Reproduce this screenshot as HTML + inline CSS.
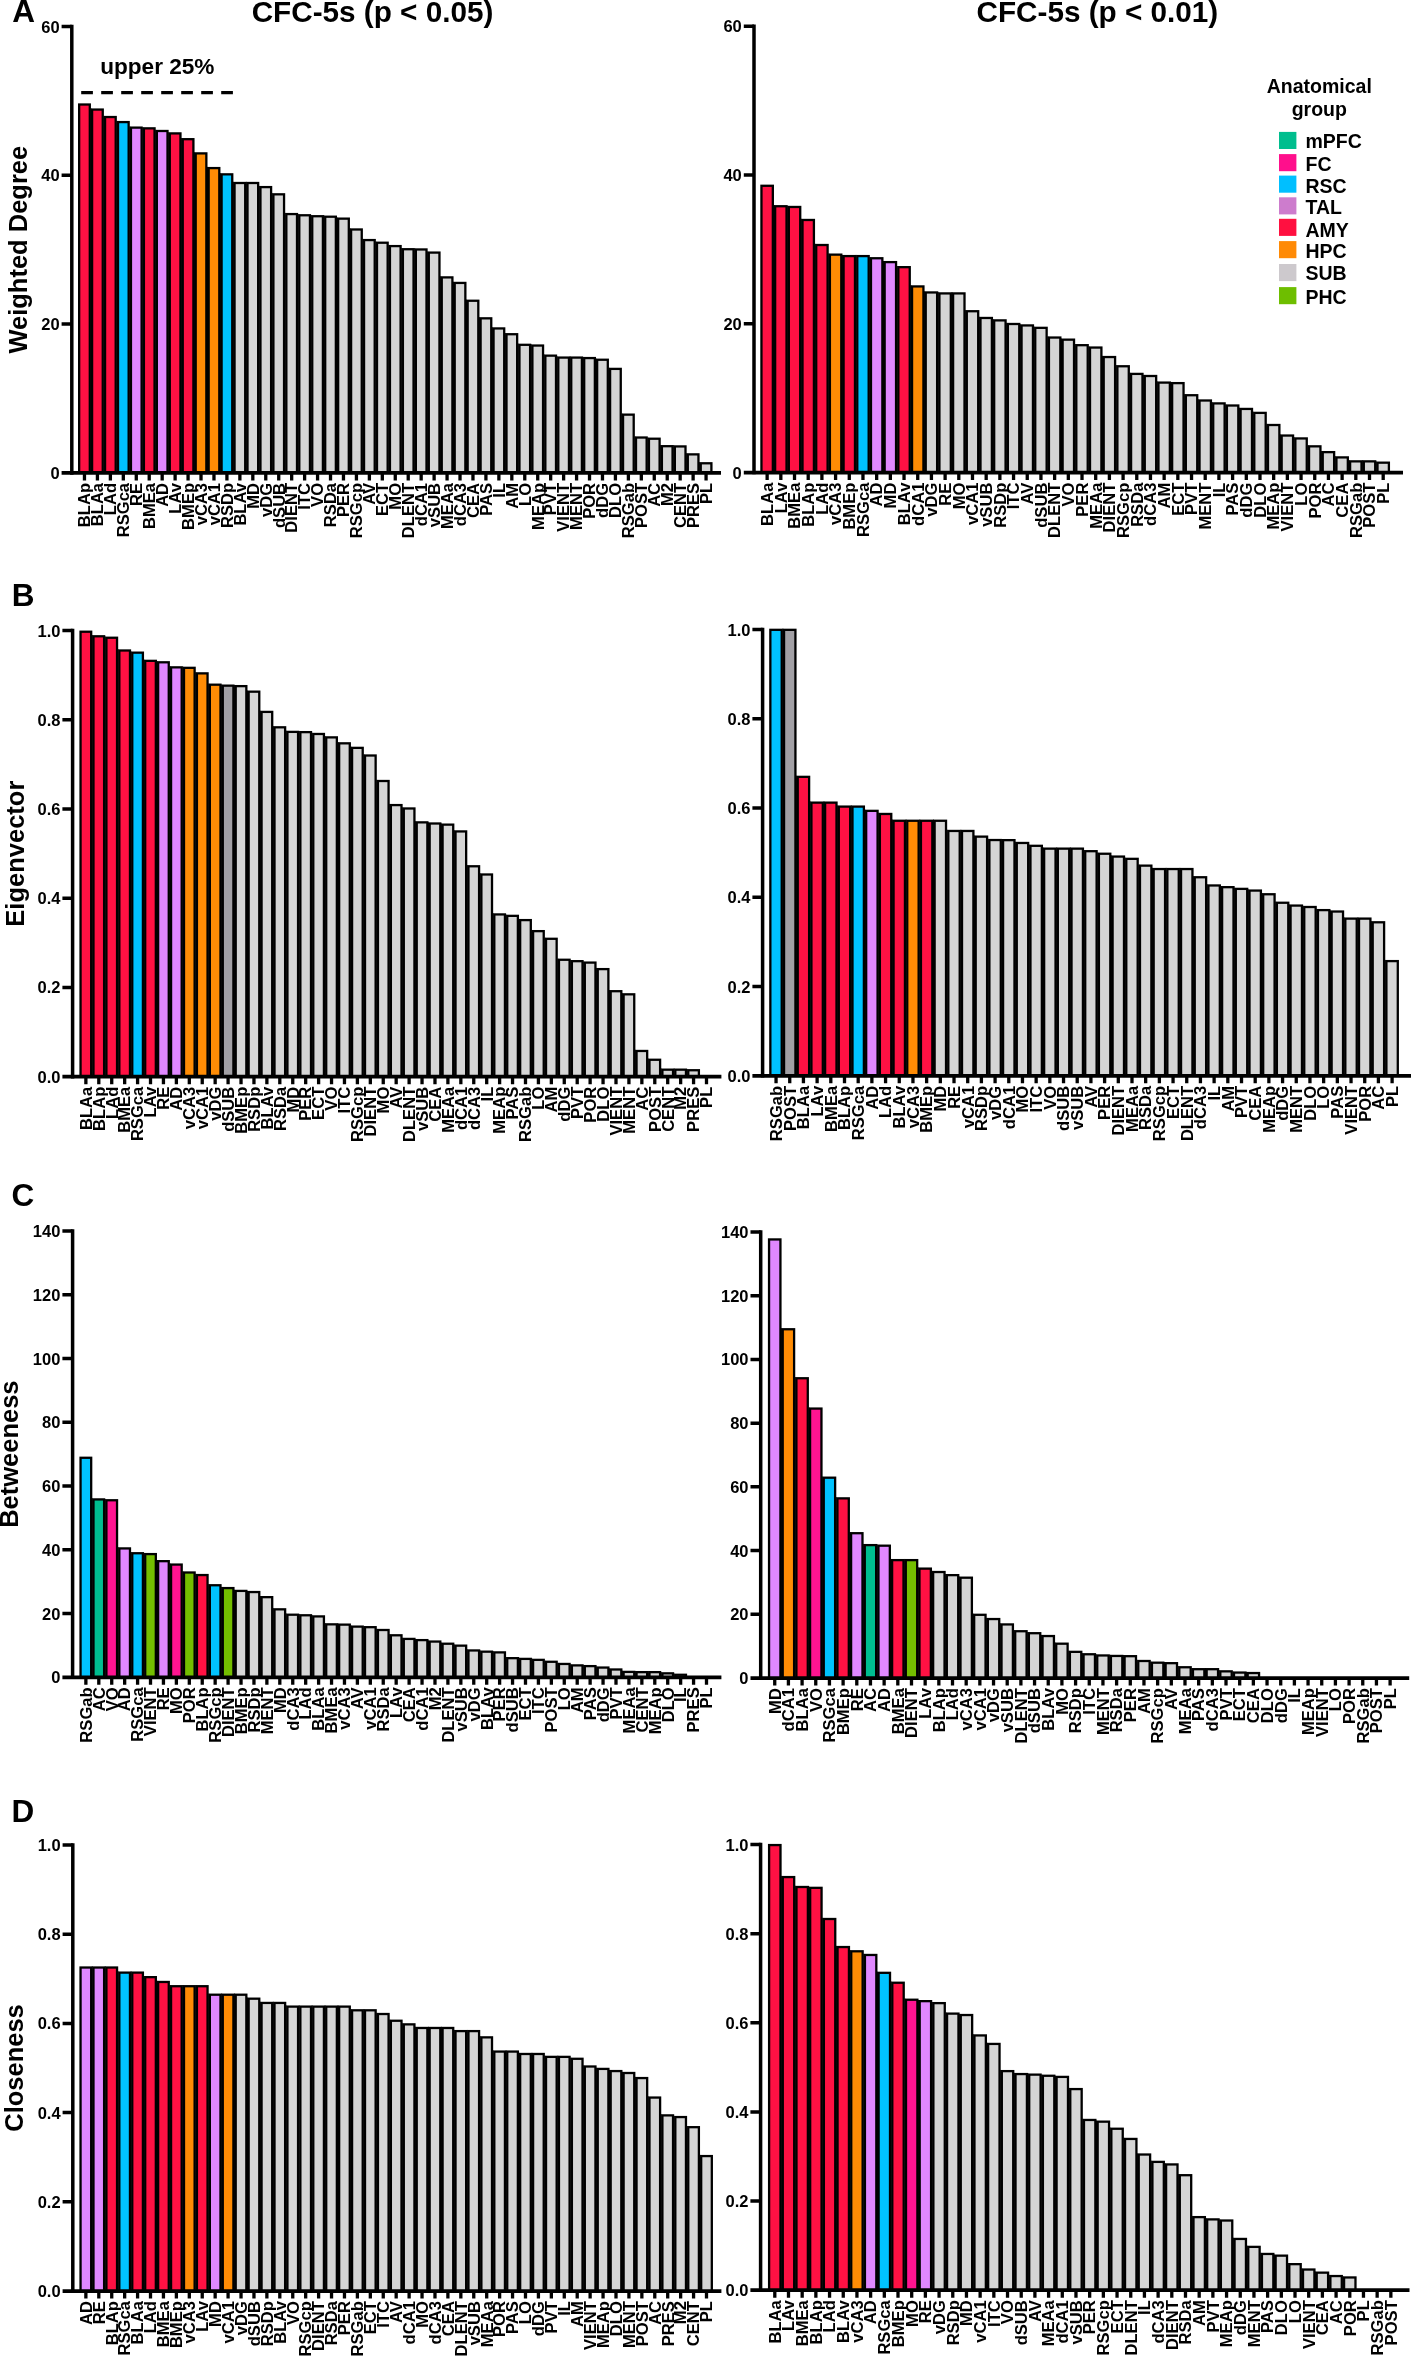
<!DOCTYPE html>
<html><head><meta charset="utf-8"><title>Figure</title>
<style>
html,body{margin:0;padding:0;background:#fff;}
body{width:1412px;height:2357px;overflow:hidden;}
svg{display:block;will-change:transform;}
text{font-family:"Liberation Sans",sans-serif;font-weight:bold;fill:#000;}
.xl{font-size:16.6px;letter-spacing:0px;text-anchor:end;}
.yt{font-size:16.5px;text-anchor:end;}
.yl{font-size:25.5px;letter-spacing:0px;text-anchor:middle;}
.pl{font-size:31.5px;}
.tt{font-size:29.7px;letter-spacing:0px;text-anchor:middle;}
.lg{font-size:19.5px;}
</style></head>
<body>
<svg width="1412" height="2357" viewBox="0 0 1412 2357">
<rect x="0" y="0" width="1412" height="2357" fill="#fff"/>
<g id="AL">
<g fill="#000"><rect x="78" y="103.36" width="12.95" height="369.54"/><rect x="90.45" y="108.41" width="1" height="364.49"/><rect x="90.95" y="108.41" width="12.95" height="364.49"/><rect x="103.4" y="115.88" width="1" height="357.02"/><rect x="103.9" y="115.88" width="12.95" height="357.02"/><rect x="116.35" y="120.93" width="1" height="351.97"/><rect x="116.85" y="120.93" width="12.95" height="351.97"/><rect x="129.3" y="126.47" width="1" height="346.43"/><rect x="129.8" y="126.47" width="12.95" height="346.43"/><rect x="142.25" y="127.19" width="1" height="345.71"/><rect x="142.75" y="127.19" width="12.95" height="345.71"/><rect x="155.2" y="129.84" width="1" height="343.06"/><rect x="155.7" y="129.84" width="12.95" height="343.06"/><rect x="168.15" y="132.25" width="1" height="340.65"/><rect x="168.65" y="132.25" width="12.95" height="340.65"/><rect x="181.1" y="138.03" width="1" height="334.87"/><rect x="181.6" y="138.03" width="12.95" height="334.87"/><rect x="194.05" y="152.24" width="1" height="320.66"/><rect x="194.55" y="152.24" width="12.95" height="320.66"/><rect x="207" y="166.93" width="1" height="305.97"/><rect x="207.5" y="166.93" width="12.95" height="305.97"/><rect x="219.95" y="173.19" width="1" height="299.71"/><rect x="220.45" y="173.19" width="12.95" height="299.71"/><rect x="232.9" y="181.85" width="1" height="291.05"/><rect x="233.4" y="181.85" width="12.95" height="291.05"/><rect x="245.85" y="181.85" width="1" height="291.05"/><rect x="246.35" y="181.85" width="12.95" height="291.05"/><rect x="258.8" y="185.95" width="1" height="286.95"/><rect x="259.3" y="185.95" width="12.95" height="286.95"/><rect x="271.75" y="193.17" width="1" height="279.73"/><rect x="272.25" y="193.17" width="12.95" height="279.73"/><rect x="284.7" y="212.92" width="1" height="259.98"/><rect x="285.2" y="212.92" width="12.95" height="259.98"/><rect x="297.65" y="214.12" width="1" height="258.78"/><rect x="298.15" y="214.12" width="12.95" height="258.78"/><rect x="310.6" y="215.08" width="1" height="257.82"/><rect x="311.1" y="215.08" width="12.95" height="257.82"/><rect x="323.55" y="215.56" width="1" height="257.34"/><rect x="324.05" y="215.56" width="12.95" height="257.34"/><rect x="336.5" y="217.49" width="1" height="255.41"/><rect x="337" y="217.49" width="12.95" height="255.41"/><rect x="349.45" y="228.33" width="1" height="244.57"/><rect x="349.95" y="228.33" width="12.95" height="244.57"/><rect x="362.4" y="238.92" width="1" height="233.98"/><rect x="362.9" y="238.92" width="12.95" height="233.98"/><rect x="375.35" y="241.57" width="1" height="231.33"/><rect x="375.85" y="241.57" width="12.95" height="231.33"/><rect x="388.3" y="244.94" width="1" height="227.96"/><rect x="388.8" y="244.94" width="12.95" height="227.96"/><rect x="401.25" y="248.07" width="1" height="224.83"/><rect x="401.75" y="248.07" width="12.95" height="224.83"/><rect x="414.2" y="248.31" width="1" height="224.59"/><rect x="414.7" y="248.31" width="12.95" height="224.59"/><rect x="427.15" y="251.44" width="1" height="221.46"/><rect x="427.65" y="251.44" width="12.95" height="221.46"/><rect x="440.1" y="276.24" width="1" height="196.66"/><rect x="440.6" y="276.24" width="12.95" height="196.66"/><rect x="453.05" y="281.78" width="1" height="191.12"/><rect x="453.55" y="281.78" width="12.95" height="191.12"/><rect x="466" y="299.6" width="1" height="173.3"/><rect x="466.5" y="299.6" width="12.95" height="173.3"/><rect x="478.95" y="317.18" width="1" height="155.72"/><rect x="479.45" y="317.18" width="12.95" height="155.72"/><rect x="491.9" y="327.29" width="1" height="145.61"/><rect x="492.4" y="327.29" width="12.95" height="145.61"/><rect x="504.85" y="333.07" width="1" height="139.83"/><rect x="505.35" y="333.07" width="12.95" height="139.83"/><rect x="517.8" y="343.66" width="1" height="129.24"/><rect x="518.3" y="343.66" width="12.95" height="129.24"/><rect x="530.75" y="344.39" width="1" height="128.51"/><rect x="531.25" y="344.39" width="12.95" height="128.51"/><rect x="543.7" y="354.5" width="1" height="118.4"/><rect x="544.2" y="354.5" width="12.95" height="118.4"/><rect x="556.65" y="356.43" width="1" height="116.47"/><rect x="557.15" y="356.43" width="12.95" height="116.47"/><rect x="569.6" y="356.43" width="1" height="116.47"/><rect x="570.1" y="356.43" width="12.95" height="116.47"/><rect x="582.55" y="356.91" width="1" height="115.99"/><rect x="583.05" y="356.91" width="12.95" height="115.99"/><rect x="595.5" y="358.59" width="1" height="114.31"/><rect x="596" y="358.59" width="12.95" height="114.31"/><rect x="608.45" y="367.74" width="1" height="105.16"/><rect x="608.95" y="367.74" width="12.95" height="105.16"/><rect x="621.4" y="413.49" width="1" height="59.41"/><rect x="621.9" y="413.49" width="12.95" height="59.41"/><rect x="634.35" y="436.37" width="1" height="36.53"/><rect x="634.85" y="436.37" width="12.95" height="36.53"/><rect x="647.3" y="437.57" width="1" height="35.33"/><rect x="647.8" y="437.57" width="12.95" height="35.33"/><rect x="660.25" y="445.04" width="1" height="27.86"/><rect x="660.75" y="445.04" width="12.95" height="27.86"/><rect x="673.2" y="445.28" width="1" height="27.62"/><rect x="673.7" y="445.28" width="12.95" height="27.62"/><rect x="686.15" y="453.22" width="1" height="19.68"/><rect x="686.65" y="453.22" width="12.95" height="19.68"/><rect x="699.1" y="462.13" width="1" height="10.77"/><rect x="699.6" y="462.13" width="12.95" height="10.77"/></g>
<g><rect x="80.3" y="105.66" width="8.35" height="367.24" fill="#FF1143"/><rect x="93.25" y="110.71" width="8.35" height="362.19" fill="#FF1143"/><rect x="106.2" y="118.18" width="8.35" height="354.72" fill="#FF1143"/><rect x="119.15" y="123.23" width="8.35" height="349.67" fill="#00C3FF"/><rect x="132.1" y="128.77" width="8.35" height="344.13" fill="#E088FF"/><rect x="145.05" y="129.49" width="8.35" height="343.41" fill="#FF1143"/><rect x="158" y="132.14" width="8.35" height="340.76" fill="#E088FF"/><rect x="170.95" y="134.55" width="8.35" height="338.35" fill="#FF1143"/><rect x="183.9" y="140.33" width="8.35" height="332.57" fill="#FF1143"/><rect x="196.85" y="154.54" width="8.35" height="318.36" fill="#FF8C05"/><rect x="209.8" y="169.23" width="8.35" height="303.67" fill="#FF8C05"/><rect x="222.75" y="175.49" width="8.35" height="297.41" fill="#00C3FF"/><rect x="235.7" y="184.15" width="8.35" height="288.75" fill="#D5D5D5"/><rect x="248.65" y="184.15" width="8.35" height="288.75" fill="#D5D5D5"/><rect x="261.6" y="188.25" width="8.35" height="284.65" fill="#D5D5D5"/><rect x="274.55" y="195.47" width="8.35" height="277.43" fill="#D5D5D5"/><rect x="287.5" y="215.22" width="8.35" height="257.68" fill="#D5D5D5"/><rect x="300.45" y="216.42" width="8.35" height="256.48" fill="#D5D5D5"/><rect x="313.4" y="217.38" width="8.35" height="255.52" fill="#D5D5D5"/><rect x="326.35" y="217.86" width="8.35" height="255.04" fill="#D5D5D5"/><rect x="339.3" y="219.79" width="8.35" height="253.11" fill="#D5D5D5"/><rect x="352.25" y="230.63" width="8.35" height="242.27" fill="#D5D5D5"/><rect x="365.2" y="241.22" width="8.35" height="231.68" fill="#D5D5D5"/><rect x="378.15" y="243.87" width="8.35" height="229.03" fill="#D5D5D5"/><rect x="391.1" y="247.24" width="8.35" height="225.66" fill="#D5D5D5"/><rect x="404.05" y="250.37" width="8.35" height="222.53" fill="#D5D5D5"/><rect x="417" y="250.61" width="8.35" height="222.29" fill="#D5D5D5"/><rect x="429.95" y="253.74" width="8.35" height="219.16" fill="#D5D5D5"/><rect x="442.9" y="278.54" width="8.35" height="194.36" fill="#D5D5D5"/><rect x="455.85" y="284.08" width="8.35" height="188.82" fill="#D5D5D5"/><rect x="468.8" y="301.9" width="8.35" height="171" fill="#D5D5D5"/><rect x="481.75" y="319.48" width="8.35" height="153.42" fill="#D5D5D5"/><rect x="494.7" y="329.59" width="8.35" height="143.31" fill="#D5D5D5"/><rect x="507.65" y="335.37" width="8.35" height="137.53" fill="#D5D5D5"/><rect x="520.6" y="345.96" width="8.35" height="126.94" fill="#D5D5D5"/><rect x="533.55" y="346.69" width="8.35" height="126.21" fill="#D5D5D5"/><rect x="546.5" y="356.8" width="8.35" height="116.1" fill="#D5D5D5"/><rect x="559.45" y="358.73" width="8.35" height="114.17" fill="#D5D5D5"/><rect x="572.4" y="358.73" width="8.35" height="114.17" fill="#D5D5D5"/><rect x="585.35" y="359.21" width="8.35" height="113.69" fill="#D5D5D5"/><rect x="598.3" y="360.89" width="8.35" height="112.01" fill="#D5D5D5"/><rect x="611.25" y="370.04" width="8.35" height="102.86" fill="#D5D5D5"/><rect x="624.2" y="415.79" width="8.35" height="57.11" fill="#D5D5D5"/><rect x="637.15" y="438.67" width="8.35" height="34.23" fill="#D5D5D5"/><rect x="650.1" y="439.87" width="8.35" height="33.03" fill="#D5D5D5"/><rect x="663.05" y="447.34" width="8.35" height="25.56" fill="#D5D5D5"/><rect x="676" y="447.58" width="8.35" height="25.32" fill="#D5D5D5"/><rect x="688.95" y="455.52" width="8.35" height="17.38" fill="#D5D5D5"/><rect x="701.9" y="464.43" width="8.35" height="8.47" fill="#D5D5D5"/></g>
<g stroke="#000" fill="none">
<path stroke-width="3.5" d="M71.8 24.75 V474.65"/>
<path stroke-width="3.7" d="M61.6 472.9 H721"/>
<path stroke-width="3.5" d="M61.6 324.1 H71.8M61.6 175.3 H71.8M61.6 26.5 H71.8"/>
<path stroke-width="3.3" d="M84.47 472.9 V480.4M97.42 472.9 V480.4M110.38 472.9 V480.4M123.32 472.9 V480.4M136.28 472.9 V480.4M149.22 472.9 V480.4M162.18 472.9 V480.4M175.12 472.9 V480.4M188.07 472.9 V480.4M201.02 472.9 V480.4M213.97 472.9 V480.4M226.92 472.9 V480.4M239.88 472.9 V480.4M252.82 472.9 V480.4M265.77 472.9 V480.4M278.73 472.9 V480.4M291.67 472.9 V480.4M304.62 472.9 V480.4M317.57 472.9 V480.4M330.52 472.9 V480.4M343.47 472.9 V480.4M356.43 472.9 V480.4M369.38 472.9 V480.4M382.32 472.9 V480.4M395.27 472.9 V480.4M408.22 472.9 V480.4M421.17 472.9 V480.4M434.12 472.9 V480.4M447.07 472.9 V480.4M460.02 472.9 V480.4M472.97 472.9 V480.4M485.92 472.9 V480.4M498.88 472.9 V480.4M511.82 472.9 V480.4M524.77 472.9 V480.4M537.72 472.9 V480.4M550.67 472.9 V480.4M563.62 472.9 V480.4M576.58 472.9 V480.4M589.52 472.9 V480.4M602.48 472.9 V480.4M615.42 472.9 V480.4M628.38 472.9 V480.4M641.32 472.9 V480.4M654.27 472.9 V480.4M667.23 472.9 V480.4M680.17 472.9 V480.4M693.12 472.9 V480.4M706.07 472.9 V480.4"/>
</g>
<text class="yt" x="59.6" y="478.9">0</text><text class="yt" x="59.6" y="330.1">20</text><text class="yt" x="59.6" y="181.3">40</text><text class="yt" x="59.6" y="32.5">60</text>
<text class="xl" transform="translate(90.27 482.9) rotate(-90)">BLAp</text><text class="xl" transform="translate(103.22 482.9) rotate(-90)">BLAa</text><text class="xl" transform="translate(116.17 482.9) rotate(-90)">LAd</text><text class="xl" transform="translate(129.12 482.9) rotate(-90)">RSGca</text><text class="xl" transform="translate(142.08 482.9) rotate(-90)">RE</text><text class="xl" transform="translate(155.03 482.9) rotate(-90)">BMEa</text><text class="xl" transform="translate(167.98 482.9) rotate(-90)">AD</text><text class="xl" transform="translate(180.93 482.9) rotate(-90)">LAv</text><text class="xl" transform="translate(193.88 482.9) rotate(-90)">BMEp</text><text class="xl" transform="translate(206.82 482.9) rotate(-90)">vCA3</text><text class="xl" transform="translate(219.78 482.9) rotate(-90)">vCA1</text><text class="xl" transform="translate(232.72 482.9) rotate(-90)">RSDp</text><text class="xl" transform="translate(245.68 482.9) rotate(-90)">BLAv</text><text class="xl" transform="translate(258.62 482.9) rotate(-90)">MD</text><text class="xl" transform="translate(271.57 482.9) rotate(-90)">vDG</text><text class="xl" transform="translate(284.53 482.9) rotate(-90)">dSUB</text><text class="xl" transform="translate(297.47 482.9) rotate(-90)">DIENT</text><text class="xl" transform="translate(310.43 482.9) rotate(-90)">ITC</text><text class="xl" transform="translate(323.38 482.9) rotate(-90)">VO</text><text class="xl" transform="translate(336.32 482.9) rotate(-90)">RSDa</text><text class="xl" transform="translate(349.27 482.9) rotate(-90)">PER</text><text class="xl" transform="translate(362.23 482.9) rotate(-90)">RSGcp</text><text class="xl" transform="translate(375.18 482.9) rotate(-90)">AV</text><text class="xl" transform="translate(388.12 482.9) rotate(-90)">ECT</text><text class="xl" transform="translate(401.07 482.9) rotate(-90)">MO</text><text class="xl" transform="translate(414.02 482.9) rotate(-90)">DLENT</text><text class="xl" transform="translate(426.97 482.9) rotate(-90)">dCA1</text><text class="xl" transform="translate(439.93 482.9) rotate(-90)">vSUB</text><text class="xl" transform="translate(452.88 482.9) rotate(-90)">MEAa</text><text class="xl" transform="translate(465.82 482.9) rotate(-90)">dCA3</text><text class="xl" transform="translate(478.77 482.9) rotate(-90)">CEA</text><text class="xl" transform="translate(491.72 482.9) rotate(-90)">PAS</text><text class="xl" transform="translate(504.68 482.9) rotate(-90)">IL</text><text class="xl" transform="translate(517.62 482.9) rotate(-90)">AM</text><text class="xl" transform="translate(530.57 482.9) rotate(-90)">LO</text><text class="xl" transform="translate(543.52 482.9) rotate(-90)">MEAp</text><text class="xl" transform="translate(556.47 482.9) rotate(-90)">PVT</text><text class="xl" transform="translate(569.42 482.9) rotate(-90)">VIENT</text><text class="xl" transform="translate(582.38 482.9) rotate(-90)">MENT</text><text class="xl" transform="translate(595.32 482.9) rotate(-90)">POR</text><text class="xl" transform="translate(608.27 482.9) rotate(-90)">dDG</text><text class="xl" transform="translate(621.22 482.9) rotate(-90)">DLO</text><text class="xl" transform="translate(634.17 482.9) rotate(-90)">RSGab</text><text class="xl" transform="translate(647.12 482.9) rotate(-90)">POST</text><text class="xl" transform="translate(660.07 482.9) rotate(-90)">AC</text><text class="xl" transform="translate(673.02 482.9) rotate(-90)">M2</text><text class="xl" transform="translate(685.97 482.9) rotate(-90)">CENT</text><text class="xl" transform="translate(698.92 482.9) rotate(-90)">PRES</text><text class="xl" transform="translate(711.87 482.9) rotate(-90)">PL</text>
<text class="yl" transform="translate(27 249.7) rotate(-90)">Weighted Degree</text>
</g>
<g id="AR">
<g fill="#000"><rect x="760.3" y="184.63" width="13.69" height="287.97"/><rect x="773.49" y="205.09" width="1" height="267.51"/><rect x="773.99" y="205.09" width="13.69" height="267.51"/><rect x="787.18" y="205.82" width="1" height="266.78"/><rect x="787.68" y="205.82" width="13.69" height="266.78"/><rect x="800.87" y="218.82" width="1" height="253.78"/><rect x="801.37" y="218.82" width="13.69" height="253.78"/><rect x="814.56" y="243.86" width="1" height="228.74"/><rect x="815.06" y="243.86" width="13.69" height="228.74"/><rect x="828.25" y="253.49" width="1" height="219.11"/><rect x="828.75" y="253.49" width="13.69" height="219.11"/><rect x="841.94" y="254.94" width="1" height="217.66"/><rect x="842.44" y="254.94" width="13.69" height="217.66"/><rect x="855.63" y="254.94" width="1" height="217.66"/><rect x="856.13" y="254.94" width="13.69" height="217.66"/><rect x="869.32" y="257.1" width="1" height="215.5"/><rect x="869.82" y="257.1" width="13.69" height="215.5"/><rect x="883.01" y="260.96" width="1" height="211.64"/><rect x="883.51" y="260.96" width="13.69" height="211.64"/><rect x="896.7" y="266.01" width="1" height="206.59"/><rect x="897.2" y="266.01" width="13.69" height="206.59"/><rect x="910.39" y="285.28" width="1" height="187.32"/><rect x="910.89" y="285.28" width="13.69" height="187.32"/><rect x="924.08" y="291.3" width="1" height="181.3"/><rect x="924.58" y="291.3" width="13.69" height="181.3"/><rect x="937.77" y="292.26" width="1" height="180.34"/><rect x="938.27" y="292.26" width="13.69" height="180.34"/><rect x="951.46" y="292.26" width="1" height="180.34"/><rect x="951.96" y="292.26" width="13.69" height="180.34"/><rect x="965.15" y="310.08" width="1" height="162.52"/><rect x="965.65" y="310.08" width="13.69" height="162.52"/><rect x="978.84" y="316.82" width="1" height="155.78"/><rect x="979.34" y="316.82" width="13.69" height="155.78"/><rect x="992.53" y="319.23" width="1" height="153.37"/><rect x="993.03" y="319.23" width="13.69" height="153.37"/><rect x="1006.22" y="322.84" width="1" height="149.76"/><rect x="1006.72" y="322.84" width="13.69" height="149.76"/><rect x="1019.91" y="324.28" width="1" height="148.32"/><rect x="1020.41" y="324.28" width="13.69" height="148.32"/><rect x="1033.6" y="326.69" width="1" height="145.91"/><rect x="1034.1" y="326.69" width="13.69" height="145.91"/><rect x="1047.29" y="336.39" width="1" height="136.21"/><rect x="1047.79" y="336.39" width="13.69" height="136.21"/><rect x="1060.98" y="338.5" width="1" height="134.1"/><rect x="1061.48" y="338.5" width="13.69" height="134.1"/><rect x="1074.67" y="344.03" width="1" height="128.57"/><rect x="1075.17" y="344.03" width="13.69" height="128.57"/><rect x="1088.36" y="346.4" width="1" height="126.2"/><rect x="1088.86" y="346.4" width="13.69" height="126.2"/><rect x="1102.05" y="355.89" width="1" height="116.71"/><rect x="1102.55" y="355.89" width="13.69" height="116.71"/><rect x="1115.74" y="365.11" width="1" height="107.49"/><rect x="1116.24" y="365.11" width="13.69" height="107.49"/><rect x="1129.43" y="372.75" width="1" height="99.85"/><rect x="1129.93" y="372.75" width="13.69" height="99.85"/><rect x="1143.12" y="374.85" width="1" height="97.75"/><rect x="1143.62" y="374.85" width="13.69" height="97.75"/><rect x="1156.81" y="381.44" width="1" height="91.16"/><rect x="1157.31" y="381.44" width="13.69" height="91.16"/><rect x="1170.5" y="381.97" width="1" height="90.63"/><rect x="1171" y="381.97" width="13.69" height="90.63"/><rect x="1184.19" y="394.08" width="1" height="78.52"/><rect x="1184.69" y="394.08" width="13.69" height="78.52"/><rect x="1197.88" y="399.35" width="1" height="73.25"/><rect x="1198.38" y="399.35" width="13.69" height="73.25"/><rect x="1211.57" y="402.25" width="1" height="70.35"/><rect x="1212.07" y="402.25" width="13.69" height="70.35"/><rect x="1225.26" y="404.36" width="1" height="68.24"/><rect x="1225.76" y="404.36" width="13.69" height="68.24"/><rect x="1238.95" y="407.78" width="1" height="64.82"/><rect x="1239.45" y="407.78" width="13.69" height="64.82"/><rect x="1252.64" y="411.73" width="1" height="60.87"/><rect x="1253.14" y="411.73" width="13.69" height="60.87"/><rect x="1266.33" y="423.85" width="1" height="48.75"/><rect x="1266.83" y="423.85" width="13.69" height="48.75"/><rect x="1280.02" y="434.39" width="1" height="38.21"/><rect x="1280.52" y="434.39" width="13.69" height="38.21"/><rect x="1293.71" y="437.29" width="1" height="35.31"/><rect x="1294.21" y="437.29" width="13.69" height="35.31"/><rect x="1307.4" y="445.19" width="1" height="27.41"/><rect x="1307.9" y="445.19" width="13.69" height="27.41"/><rect x="1321.09" y="450.99" width="1" height="21.61"/><rect x="1321.59" y="450.99" width="13.69" height="21.61"/><rect x="1334.78" y="456.25" width="1" height="16.35"/><rect x="1335.28" y="456.25" width="13.69" height="16.35"/><rect x="1348.47" y="460.21" width="1" height="12.39"/><rect x="1348.97" y="460.21" width="13.69" height="12.39"/><rect x="1362.16" y="460.21" width="1" height="12.39"/><rect x="1362.66" y="460.21" width="13.69" height="12.39"/><rect x="1375.85" y="461.52" width="1" height="11.08"/><rect x="1376.35" y="461.52" width="13.69" height="11.08"/></g>
<g><rect x="762.6" y="186.93" width="9.09" height="285.67" fill="#FF1143"/><rect x="776.29" y="207.39" width="9.09" height="265.21" fill="#FF1143"/><rect x="789.98" y="208.12" width="9.09" height="264.48" fill="#FF1143"/><rect x="803.67" y="221.12" width="9.09" height="251.48" fill="#FF1143"/><rect x="817.36" y="246.16" width="9.09" height="226.44" fill="#FF1143"/><rect x="831.05" y="255.79" width="9.09" height="216.81" fill="#FF8C05"/><rect x="844.74" y="257.24" width="9.09" height="215.36" fill="#FF1143"/><rect x="858.43" y="257.24" width="9.09" height="215.36" fill="#00C3FF"/><rect x="872.12" y="259.4" width="9.09" height="213.2" fill="#E088FF"/><rect x="885.81" y="263.26" width="9.09" height="209.34" fill="#E088FF"/><rect x="899.5" y="268.31" width="9.09" height="204.29" fill="#FF1143"/><rect x="913.19" y="287.58" width="9.09" height="185.02" fill="#FF8C05"/><rect x="926.88" y="293.6" width="9.09" height="179" fill="#D5D5D5"/><rect x="940.57" y="294.56" width="9.09" height="178.04" fill="#D5D5D5"/><rect x="954.26" y="294.56" width="9.09" height="178.04" fill="#D5D5D5"/><rect x="967.95" y="312.38" width="9.09" height="160.22" fill="#D5D5D5"/><rect x="981.64" y="319.12" width="9.09" height="153.48" fill="#D5D5D5"/><rect x="995.33" y="321.53" width="9.09" height="151.07" fill="#D5D5D5"/><rect x="1009.02" y="325.14" width="9.09" height="147.46" fill="#D5D5D5"/><rect x="1022.71" y="326.58" width="9.09" height="146.02" fill="#D5D5D5"/><rect x="1036.4" y="328.99" width="9.09" height="143.61" fill="#D5D5D5"/><rect x="1050.09" y="338.69" width="9.09" height="133.91" fill="#D5D5D5"/><rect x="1063.78" y="340.8" width="9.09" height="131.8" fill="#D5D5D5"/><rect x="1077.47" y="346.33" width="9.09" height="126.27" fill="#D5D5D5"/><rect x="1091.16" y="348.7" width="9.09" height="123.9" fill="#D5D5D5"/><rect x="1104.85" y="358.19" width="9.09" height="114.41" fill="#D5D5D5"/><rect x="1118.54" y="367.41" width="9.09" height="105.19" fill="#D5D5D5"/><rect x="1132.23" y="375.05" width="9.09" height="97.55" fill="#D5D5D5"/><rect x="1145.92" y="377.15" width="9.09" height="95.45" fill="#D5D5D5"/><rect x="1159.61" y="383.74" width="9.09" height="88.86" fill="#D5D5D5"/><rect x="1173.3" y="384.27" width="9.09" height="88.33" fill="#D5D5D5"/><rect x="1186.99" y="396.38" width="9.09" height="76.22" fill="#D5D5D5"/><rect x="1200.68" y="401.65" width="9.09" height="70.95" fill="#D5D5D5"/><rect x="1214.37" y="404.55" width="9.09" height="68.05" fill="#D5D5D5"/><rect x="1228.06" y="406.66" width="9.09" height="65.94" fill="#D5D5D5"/><rect x="1241.75" y="410.08" width="9.09" height="62.52" fill="#D5D5D5"/><rect x="1255.44" y="414.03" width="9.09" height="58.57" fill="#D5D5D5"/><rect x="1269.13" y="426.15" width="9.09" height="46.45" fill="#D5D5D5"/><rect x="1282.82" y="436.69" width="9.09" height="35.91" fill="#D5D5D5"/><rect x="1296.51" y="439.59" width="9.09" height="33.01" fill="#D5D5D5"/><rect x="1310.2" y="447.49" width="9.09" height="25.11" fill="#D5D5D5"/><rect x="1323.89" y="453.29" width="9.09" height="19.31" fill="#D5D5D5"/><rect x="1337.58" y="458.55" width="9.09" height="14.05" fill="#D5D5D5"/><rect x="1351.27" y="462.51" width="9.09" height="10.09" fill="#D5D5D5"/><rect x="1364.96" y="462.51" width="9.09" height="10.09" fill="#D5D5D5"/><rect x="1378.65" y="463.82" width="9.09" height="8.78" fill="#D5D5D5"/></g>
<g stroke="#000" fill="none">
<path stroke-width="3.5" d="M754 24.55 V474.35"/>
<path stroke-width="3.7" d="M743.8 472.6 H1403"/>
<path stroke-width="3.5" d="M743.8 323.83 H754M743.8 175.07 H754M743.8 26.3 H754"/>
<path stroke-width="3.3" d="M767.14 472.6 V480.1M780.83 472.6 V480.1M794.52 472.6 V480.1M808.21 472.6 V480.1M821.9 472.6 V480.1M835.59 472.6 V480.1M849.28 472.6 V480.1M862.97 472.6 V480.1M876.66 472.6 V480.1M890.36 472.6 V480.1M904.04 472.6 V480.1M917.73 472.6 V480.1M931.42 472.6 V480.1M945.12 472.6 V480.1M958.8 472.6 V480.1M972.49 472.6 V480.1M986.18 472.6 V480.1M999.88 472.6 V480.1M1013.56 472.6 V480.1M1027.25 472.6 V480.1M1040.94 472.6 V480.1M1054.63 472.6 V480.1M1068.32 472.6 V480.1M1082.01 472.6 V480.1M1095.7 472.6 V480.1M1109.39 472.6 V480.1M1123.09 472.6 V480.1M1136.77 472.6 V480.1M1150.46 472.6 V480.1M1164.15 472.6 V480.1M1177.84 472.6 V480.1M1191.53 472.6 V480.1M1205.22 472.6 V480.1M1218.91 472.6 V480.1M1232.61 472.6 V480.1M1246.3 472.6 V480.1M1259.98 472.6 V480.1M1273.67 472.6 V480.1M1287.36 472.6 V480.1M1301.05 472.6 V480.1M1314.74 472.6 V480.1M1328.43 472.6 V480.1M1342.12 472.6 V480.1M1355.82 472.6 V480.1M1369.5 472.6 V480.1M1383.19 472.6 V480.1"/>
</g>
<text class="yt" x="741.8" y="478.6">0</text><text class="yt" x="741.8" y="329.83">20</text><text class="yt" x="741.8" y="181.07">40</text><text class="yt" x="741.8" y="32.3">60</text>
<text class="xl" transform="translate(772.94 482.6) rotate(-90)">BLAa</text><text class="xl" transform="translate(786.63 482.6) rotate(-90)">LAv</text><text class="xl" transform="translate(800.32 482.6) rotate(-90)">BMEa</text><text class="xl" transform="translate(814.01 482.6) rotate(-90)">BLAp</text><text class="xl" transform="translate(827.7 482.6) rotate(-90)">LAd</text><text class="xl" transform="translate(841.39 482.6) rotate(-90)">vCA3</text><text class="xl" transform="translate(855.08 482.6) rotate(-90)">BMEp</text><text class="xl" transform="translate(868.77 482.6) rotate(-90)">RSGca</text><text class="xl" transform="translate(882.46 482.6) rotate(-90)">AD</text><text class="xl" transform="translate(896.15 482.6) rotate(-90)">MD</text><text class="xl" transform="translate(909.84 482.6) rotate(-90)">BLAv</text><text class="xl" transform="translate(923.53 482.6) rotate(-90)">dCA1</text><text class="xl" transform="translate(937.22 482.6) rotate(-90)">vDG</text><text class="xl" transform="translate(950.91 482.6) rotate(-90)">RE</text><text class="xl" transform="translate(964.6 482.6) rotate(-90)">MO</text><text class="xl" transform="translate(978.29 482.6) rotate(-90)">vCA1</text><text class="xl" transform="translate(991.98 482.6) rotate(-90)">vSUB</text><text class="xl" transform="translate(1005.67 482.6) rotate(-90)">RSDp</text><text class="xl" transform="translate(1019.36 482.6) rotate(-90)">ITC</text><text class="xl" transform="translate(1033.05 482.6) rotate(-90)">AV</text><text class="xl" transform="translate(1046.74 482.6) rotate(-90)">dSUB</text><text class="xl" transform="translate(1060.43 482.6) rotate(-90)">DLENT</text><text class="xl" transform="translate(1074.12 482.6) rotate(-90)">VO</text><text class="xl" transform="translate(1087.81 482.6) rotate(-90)">PER</text><text class="xl" transform="translate(1101.5 482.6) rotate(-90)">MEAa</text><text class="xl" transform="translate(1115.19 482.6) rotate(-90)">DIENT</text><text class="xl" transform="translate(1128.88 482.6) rotate(-90)">RSGcp</text><text class="xl" transform="translate(1142.57 482.6) rotate(-90)">RSDa</text><text class="xl" transform="translate(1156.26 482.6) rotate(-90)">dCA3</text><text class="xl" transform="translate(1169.95 482.6) rotate(-90)">AM</text><text class="xl" transform="translate(1183.64 482.6) rotate(-90)">ECT</text><text class="xl" transform="translate(1197.33 482.6) rotate(-90)">PVT</text><text class="xl" transform="translate(1211.02 482.6) rotate(-90)">MENT</text><text class="xl" transform="translate(1224.71 482.6) rotate(-90)">IL</text><text class="xl" transform="translate(1238.4 482.6) rotate(-90)">PAS</text><text class="xl" transform="translate(1252.1 482.6) rotate(-90)">dDG</text><text class="xl" transform="translate(1265.78 482.6) rotate(-90)">DLO</text><text class="xl" transform="translate(1279.47 482.6) rotate(-90)">MEAp</text><text class="xl" transform="translate(1293.16 482.6) rotate(-90)">VIENT</text><text class="xl" transform="translate(1306.85 482.6) rotate(-90)">LO</text><text class="xl" transform="translate(1320.54 482.6) rotate(-90)">POR</text><text class="xl" transform="translate(1334.23 482.6) rotate(-90)">AC</text><text class="xl" transform="translate(1347.92 482.6) rotate(-90)">CEA</text><text class="xl" transform="translate(1361.62 482.6) rotate(-90)">RSGab</text><text class="xl" transform="translate(1375.3 482.6) rotate(-90)">POST</text><text class="xl" transform="translate(1388.99 482.6) rotate(-90)">PL</text>
</g>
<g id="BL">
<g fill="#000"><rect x="79.4" y="630.57" width="12.93" height="446.13"/><rect x="91.83" y="635.14" width="1" height="441.56"/><rect x="92.33" y="635.14" width="12.93" height="441.56"/><rect x="104.76" y="636.59" width="1" height="440.11"/><rect x="105.26" y="636.59" width="12.93" height="440.11"/><rect x="117.69" y="649.35" width="1" height="427.35"/><rect x="118.19" y="649.35" width="12.93" height="427.35"/><rect x="130.62" y="651.51" width="1" height="425.19"/><rect x="131.12" y="651.51" width="12.93" height="425.19"/><rect x="143.55" y="659.7" width="1" height="417"/><rect x="144.05" y="659.7" width="12.93" height="417"/><rect x="156.48" y="661.15" width="1" height="415.55"/><rect x="156.98" y="661.15" width="12.93" height="415.55"/><rect x="169.41" y="666.2" width="1" height="410.5"/><rect x="169.91" y="666.2" width="12.93" height="410.5"/><rect x="182.34" y="666.68" width="1" height="410.02"/><rect x="182.84" y="666.68" width="12.93" height="410.02"/><rect x="195.27" y="672.22" width="1" height="404.48"/><rect x="195.77" y="672.22" width="12.93" height="404.48"/><rect x="208.2" y="683.54" width="1" height="393.16"/><rect x="208.7" y="683.54" width="12.93" height="393.16"/><rect x="221.13" y="684.5" width="1" height="392.2"/><rect x="221.63" y="684.5" width="12.93" height="392.2"/><rect x="234.06" y="684.98" width="1" height="391.72"/><rect x="234.56" y="684.98" width="12.93" height="391.72"/><rect x="246.99" y="690.52" width="1" height="386.18"/><rect x="247.49" y="690.52" width="12.93" height="386.18"/><rect x="259.92" y="710.75" width="1" height="365.95"/><rect x="260.42" y="710.75" width="12.93" height="365.95"/><rect x="272.85" y="726.16" width="1" height="350.54"/><rect x="273.35" y="726.16" width="12.93" height="350.54"/><rect x="285.78" y="730.73" width="1" height="345.97"/><rect x="286.28" y="730.73" width="12.93" height="345.97"/><rect x="298.71" y="730.98" width="1" height="345.72"/><rect x="299.21" y="730.98" width="12.93" height="345.72"/><rect x="311.64" y="732.83" width="1" height="343.87"/><rect x="312.14" y="732.83" width="12.93" height="343.87"/><rect x="324.57" y="736.23" width="1" height="340.47"/><rect x="325.07" y="736.23" width="12.93" height="340.47"/><rect x="337.5" y="742.18" width="1" height="334.52"/><rect x="338" y="742.18" width="12.93" height="334.52"/><rect x="350.43" y="746.71" width="1" height="329.99"/><rect x="350.93" y="746.71" width="12.93" height="329.99"/><rect x="363.36" y="754.36" width="1" height="322.34"/><rect x="363.86" y="754.36" width="12.93" height="322.34"/><rect x="376.29" y="779.85" width="1" height="296.85"/><rect x="376.79" y="779.85" width="12.93" height="296.85"/><rect x="389.22" y="803.93" width="1" height="272.77"/><rect x="389.72" y="803.93" width="12.93" height="272.77"/><rect x="402.15" y="807.33" width="1" height="269.37"/><rect x="402.65" y="807.33" width="12.93" height="269.37"/><rect x="415.08" y="821.21" width="1" height="255.49"/><rect x="415.58" y="821.21" width="12.93" height="255.49"/><rect x="428.01" y="822.35" width="1" height="254.35"/><rect x="428.51" y="822.35" width="12.93" height="254.35"/><rect x="440.94" y="823.48" width="1" height="253.22"/><rect x="441.44" y="823.48" width="12.93" height="253.22"/><rect x="453.87" y="830.28" width="1" height="246.42"/><rect x="454.37" y="830.28" width="12.93" height="246.42"/><rect x="466.8" y="865.12" width="1" height="211.58"/><rect x="467.3" y="865.12" width="12.93" height="211.58"/><rect x="479.73" y="873.34" width="1" height="203.36"/><rect x="480.23" y="873.34" width="12.93" height="203.36"/><rect x="492.66" y="913.28" width="1" height="163.42"/><rect x="493.16" y="913.28" width="12.93" height="163.42"/><rect x="505.59" y="914.7" width="1" height="162"/><rect x="506.09" y="914.7" width="12.93" height="162"/><rect x="518.52" y="918.95" width="1" height="157.75"/><rect x="519.02" y="918.95" width="12.93" height="157.75"/><rect x="531.45" y="929.99" width="1" height="146.71"/><rect x="531.95" y="929.99" width="12.93" height="146.71"/><rect x="544.38" y="937.64" width="1" height="139.06"/><rect x="544.88" y="937.64" width="12.93" height="139.06"/><rect x="557.31" y="958.61" width="1" height="118.09"/><rect x="557.81" y="958.61" width="12.93" height="118.09"/><rect x="570.24" y="960.02" width="1" height="116.68"/><rect x="570.74" y="960.02" width="12.93" height="116.68"/><rect x="583.17" y="961.44" width="1" height="115.26"/><rect x="583.67" y="961.44" width="12.93" height="115.26"/><rect x="596.1" y="967.96" width="1" height="108.74"/><rect x="596.6" y="967.96" width="12.93" height="108.74"/><rect x="609.03" y="990.05" width="1" height="86.65"/><rect x="609.53" y="990.05" width="12.93" height="86.65"/><rect x="621.96" y="993.17" width="1" height="83.53"/><rect x="622.46" y="993.17" width="12.93" height="83.53"/><rect x="634.89" y="1049.82" width="1" height="26.88"/><rect x="635.39" y="1049.82" width="12.93" height="26.88"/><rect x="647.82" y="1058.61" width="1" height="18.09"/><rect x="648.32" y="1058.61" width="12.93" height="18.09"/><rect x="660.75" y="1068.52" width="1" height="8.18"/><rect x="661.25" y="1068.52" width="12.93" height="8.18"/><rect x="673.68" y="1068.52" width="1" height="8.18"/><rect x="674.18" y="1068.52" width="12.93" height="8.18"/><rect x="686.61" y="1069.09" width="1" height="7.61"/><rect x="687.11" y="1069.09" width="12.93" height="7.61"/></g>
<g><rect x="81.7" y="632.87" width="8.33" height="443.83" fill="#FF1143"/><rect x="94.63" y="637.44" width="8.33" height="439.26" fill="#FF1143"/><rect x="107.56" y="638.89" width="8.33" height="437.81" fill="#FF1143"/><rect x="120.49" y="651.65" width="8.33" height="425.05" fill="#FF1143"/><rect x="133.42" y="653.81" width="8.33" height="422.89" fill="#00C3FF"/><rect x="146.35" y="662" width="8.33" height="414.7" fill="#FF1143"/><rect x="159.28" y="663.45" width="8.33" height="413.25" fill="#E088FF"/><rect x="172.21" y="668.5" width="8.33" height="408.2" fill="#E088FF"/><rect x="185.14" y="668.98" width="8.33" height="407.72" fill="#FF8C05"/><rect x="198.07" y="674.52" width="8.33" height="402.18" fill="#FF8C05"/><rect x="211" y="685.84" width="8.33" height="390.86" fill="#FF8C05"/><rect x="223.93" y="686.8" width="8.33" height="389.9" fill="#A2A0A5"/><rect x="236.86" y="687.28" width="8.33" height="389.42" fill="#D5D5D5"/><rect x="249.79" y="692.82" width="8.33" height="383.88" fill="#D5D5D5"/><rect x="262.72" y="713.05" width="8.33" height="363.65" fill="#D5D5D5"/><rect x="275.65" y="728.46" width="8.33" height="348.24" fill="#D5D5D5"/><rect x="288.58" y="733.03" width="8.33" height="343.67" fill="#D5D5D5"/><rect x="301.51" y="733.28" width="8.33" height="343.42" fill="#D5D5D5"/><rect x="314.44" y="735.13" width="8.33" height="341.57" fill="#D5D5D5"/><rect x="327.37" y="738.53" width="8.33" height="338.17" fill="#D5D5D5"/><rect x="340.3" y="744.48" width="8.33" height="332.22" fill="#D5D5D5"/><rect x="353.23" y="749.01" width="8.33" height="327.69" fill="#D5D5D5"/><rect x="366.16" y="756.66" width="8.33" height="320.04" fill="#D5D5D5"/><rect x="379.09" y="782.15" width="8.33" height="294.55" fill="#D5D5D5"/><rect x="392.02" y="806.23" width="8.33" height="270.47" fill="#D5D5D5"/><rect x="404.95" y="809.63" width="8.33" height="267.07" fill="#D5D5D5"/><rect x="417.88" y="823.51" width="8.33" height="253.19" fill="#D5D5D5"/><rect x="430.81" y="824.65" width="8.33" height="252.05" fill="#D5D5D5"/><rect x="443.74" y="825.78" width="8.33" height="250.92" fill="#D5D5D5"/><rect x="456.67" y="832.58" width="8.33" height="244.12" fill="#D5D5D5"/><rect x="469.6" y="867.42" width="8.33" height="209.28" fill="#D5D5D5"/><rect x="482.53" y="875.64" width="8.33" height="201.06" fill="#D5D5D5"/><rect x="495.46" y="915.58" width="8.33" height="161.12" fill="#D5D5D5"/><rect x="508.39" y="917" width="8.33" height="159.7" fill="#D5D5D5"/><rect x="521.32" y="921.25" width="8.33" height="155.45" fill="#D5D5D5"/><rect x="534.25" y="932.29" width="8.33" height="144.41" fill="#D5D5D5"/><rect x="547.18" y="939.94" width="8.33" height="136.76" fill="#D5D5D5"/><rect x="560.11" y="960.91" width="8.33" height="115.79" fill="#D5D5D5"/><rect x="573.04" y="962.32" width="8.33" height="114.38" fill="#D5D5D5"/><rect x="585.97" y="963.74" width="8.33" height="112.96" fill="#D5D5D5"/><rect x="598.9" y="970.26" width="8.33" height="106.44" fill="#D5D5D5"/><rect x="611.83" y="992.35" width="8.33" height="84.35" fill="#D5D5D5"/><rect x="624.76" y="995.47" width="8.33" height="81.23" fill="#D5D5D5"/><rect x="637.69" y="1052.12" width="8.33" height="24.58" fill="#D5D5D5"/><rect x="650.62" y="1060.91" width="8.33" height="15.79" fill="#D5D5D5"/><rect x="663.55" y="1070.82" width="8.33" height="5.88" fill="#D5D5D5"/><rect x="676.48" y="1070.82" width="8.33" height="5.88" fill="#D5D5D5"/><rect x="689.41" y="1071.39" width="8.33" height="5.31" fill="#D5D5D5"/></g>
<g stroke="#000" fill="none">
<path stroke-width="3.5" d="M72.6 628.85 V1078.45"/>
<path stroke-width="3.7" d="M62.4 1076.7 H721.4"/>
<path stroke-width="3.5" d="M62.4 987.48 H72.6M62.4 898.26 H72.6M62.4 809.04 H72.6M62.4 719.82 H72.6M62.4 630.6 H72.6"/>
<path stroke-width="3.3" d="M85.87 1076.7 V1084.2M98.8 1076.7 V1084.2M111.73 1076.7 V1084.2M124.66 1076.7 V1084.2M137.59 1076.7 V1084.2M150.51 1076.7 V1084.2M163.44 1076.7 V1084.2M176.38 1076.7 V1084.2M189.31 1076.7 V1084.2M202.24 1076.7 V1084.2M215.16 1076.7 V1084.2M228.09 1076.7 V1084.2M241.03 1076.7 V1084.2M253.96 1076.7 V1084.2M266.88 1076.7 V1084.2M279.81 1076.7 V1084.2M292.75 1076.7 V1084.2M305.68 1076.7 V1084.2M318.61 1076.7 V1084.2M331.53 1076.7 V1084.2M344.47 1076.7 V1084.2M357.39 1076.7 V1084.2M370.33 1076.7 V1084.2M383.25 1076.7 V1084.2M396.18 1076.7 V1084.2M409.12 1076.7 V1084.2M422.04 1076.7 V1084.2M434.98 1076.7 V1084.2M447.9 1076.7 V1084.2M460.84 1076.7 V1084.2M473.76 1076.7 V1084.2M486.7 1076.7 V1084.2M499.62 1076.7 V1084.2M512.55 1076.7 V1084.2M525.49 1076.7 V1084.2M538.41 1076.7 V1084.2M551.35 1076.7 V1084.2M564.27 1076.7 V1084.2M577.21 1076.7 V1084.2M590.13 1076.7 V1084.2M603.06 1076.7 V1084.2M616 1076.7 V1084.2M628.92 1076.7 V1084.2M641.86 1076.7 V1084.2M654.78 1076.7 V1084.2M667.71 1076.7 V1084.2M680.64 1076.7 V1084.2M693.57 1076.7 V1084.2M706.5 1076.7 V1084.2"/>
</g>
<text class="yt" x="60.4" y="1082.7">0.0</text><text class="yt" x="60.4" y="993.48">0.2</text><text class="yt" x="60.4" y="904.26">0.4</text><text class="yt" x="60.4" y="815.04">0.6</text><text class="yt" x="60.4" y="725.82">0.8</text><text class="yt" x="60.4" y="636.6">1.0</text>
<text class="xl" transform="translate(91.67 1086.7) rotate(-90)">BLAa</text><text class="xl" transform="translate(104.59 1086.7) rotate(-90)">BLAp</text><text class="xl" transform="translate(117.53 1086.7) rotate(-90)">LAd</text><text class="xl" transform="translate(130.46 1086.7) rotate(-90)">BMEa</text><text class="xl" transform="translate(143.39 1086.7) rotate(-90)">RSGca</text><text class="xl" transform="translate(156.31 1086.7) rotate(-90)">LAv</text><text class="xl" transform="translate(169.25 1086.7) rotate(-90)">RE</text><text class="xl" transform="translate(182.18 1086.7) rotate(-90)">AD</text><text class="xl" transform="translate(195.11 1086.7) rotate(-90)">vCA3</text><text class="xl" transform="translate(208.04 1086.7) rotate(-90)">vCA1</text><text class="xl" transform="translate(220.97 1086.7) rotate(-90)">vDG</text><text class="xl" transform="translate(233.9 1086.7) rotate(-90)">dSUB</text><text class="xl" transform="translate(246.83 1086.7) rotate(-90)">BMEp</text><text class="xl" transform="translate(259.75 1086.7) rotate(-90)">RSDp</text><text class="xl" transform="translate(272.69 1086.7) rotate(-90)">BLAv</text><text class="xl" transform="translate(285.62 1086.7) rotate(-90)">RSDa</text><text class="xl" transform="translate(298.55 1086.7) rotate(-90)">MD</text><text class="xl" transform="translate(311.48 1086.7) rotate(-90)">PER</text><text class="xl" transform="translate(324.41 1086.7) rotate(-90)">ECT</text><text class="xl" transform="translate(337.33 1086.7) rotate(-90)">VO</text><text class="xl" transform="translate(350.27 1086.7) rotate(-90)">ITC</text><text class="xl" transform="translate(363.19 1086.7) rotate(-90)">RSGcp</text><text class="xl" transform="translate(376.13 1086.7) rotate(-90)">DIENT</text><text class="xl" transform="translate(389.06 1086.7) rotate(-90)">MO</text><text class="xl" transform="translate(401.98 1086.7) rotate(-90)">AV</text><text class="xl" transform="translate(414.92 1086.7) rotate(-90)">DLENT</text><text class="xl" transform="translate(427.84 1086.7) rotate(-90)">vSUB</text><text class="xl" transform="translate(440.78 1086.7) rotate(-90)">CEA</text><text class="xl" transform="translate(453.7 1086.7) rotate(-90)">MEAa</text><text class="xl" transform="translate(466.64 1086.7) rotate(-90)">dCA1</text><text class="xl" transform="translate(479.56 1086.7) rotate(-90)">dCA3</text><text class="xl" transform="translate(492.5 1086.7) rotate(-90)">IL</text><text class="xl" transform="translate(505.43 1086.7) rotate(-90)">MEAp</text><text class="xl" transform="translate(518.35 1086.7) rotate(-90)">PAS</text><text class="xl" transform="translate(531.28 1086.7) rotate(-90)">RSGab</text><text class="xl" transform="translate(544.21 1086.7) rotate(-90)">LO</text><text class="xl" transform="translate(557.14 1086.7) rotate(-90)">AM</text><text class="xl" transform="translate(570.07 1086.7) rotate(-90)">dDG</text><text class="xl" transform="translate(583 1086.7) rotate(-90)">PVT</text><text class="xl" transform="translate(595.93 1086.7) rotate(-90)">POR</text><text class="xl" transform="translate(608.86 1086.7) rotate(-90)">DLO</text><text class="xl" transform="translate(621.79 1086.7) rotate(-90)">VIENT</text><text class="xl" transform="translate(634.72 1086.7) rotate(-90)">MENT</text><text class="xl" transform="translate(647.65 1086.7) rotate(-90)">AC</text><text class="xl" transform="translate(660.58 1086.7) rotate(-90)">POST</text><text class="xl" transform="translate(673.51 1086.7) rotate(-90)">CENT</text><text class="xl" transform="translate(686.44 1086.7) rotate(-90)">M2</text><text class="xl" transform="translate(699.37 1086.7) rotate(-90)">PRES</text><text class="xl" transform="translate(712.3 1086.7) rotate(-90)">PL</text>
<text class="yl" transform="translate(24.1 853.65) rotate(-90)">Eigenvector</text>
</g>
<g id="BR">
<g fill="#000"><rect x="769.2" y="628.68" width="13.69" height="447.12"/><rect x="782.39" y="628.68" width="1" height="447.12"/><rect x="782.89" y="628.68" width="13.69" height="447.12"/><rect x="796.08" y="775.7" width="1" height="300.1"/><rect x="796.58" y="775.7" width="13.69" height="300.1"/><rect x="809.77" y="801.48" width="1" height="274.32"/><rect x="810.27" y="801.48" width="13.69" height="274.32"/><rect x="823.46" y="801.48" width="1" height="274.32"/><rect x="823.96" y="801.48" width="13.69" height="274.32"/><rect x="837.15" y="805.45" width="1" height="270.35"/><rect x="837.65" y="805.45" width="13.69" height="270.35"/><rect x="850.84" y="805.45" width="1" height="270.35"/><rect x="851.34" y="805.45" width="13.69" height="270.35"/><rect x="864.53" y="809.7" width="1" height="266.1"/><rect x="865.03" y="809.7" width="13.69" height="266.1"/><rect x="878.22" y="812.81" width="1" height="262.99"/><rect x="878.72" y="812.81" width="13.69" height="262.99"/><rect x="891.91" y="819.61" width="1" height="256.19"/><rect x="892.41" y="819.61" width="13.69" height="256.19"/><rect x="905.6" y="819.61" width="1" height="256.19"/><rect x="906.1" y="819.61" width="13.69" height="256.19"/><rect x="919.29" y="819.61" width="1" height="256.19"/><rect x="919.79" y="819.61" width="13.69" height="256.19"/><rect x="932.98" y="819.61" width="1" height="256.19"/><rect x="933.48" y="819.61" width="13.69" height="256.19"/><rect x="946.67" y="829.81" width="1" height="245.99"/><rect x="947.17" y="829.81" width="13.69" height="245.99"/><rect x="960.36" y="829.81" width="1" height="245.99"/><rect x="960.86" y="829.81" width="13.69" height="245.99"/><rect x="974.05" y="835.48" width="1" height="240.32"/><rect x="974.55" y="835.48" width="13.69" height="240.32"/><rect x="987.74" y="838.88" width="1" height="236.92"/><rect x="988.24" y="838.88" width="13.69" height="236.92"/><rect x="1001.43" y="838.99" width="1" height="236.81"/><rect x="1001.93" y="838.99" width="13.69" height="236.81"/><rect x="1015.12" y="841.82" width="1" height="233.98"/><rect x="1015.62" y="841.82" width="13.69" height="233.98"/><rect x="1028.81" y="844.66" width="1" height="231.14"/><rect x="1029.31" y="844.66" width="13.69" height="231.14"/><rect x="1042.5" y="847.49" width="1" height="228.31"/><rect x="1043" y="847.49" width="13.69" height="228.31"/><rect x="1056.19" y="847.49" width="1" height="228.31"/><rect x="1056.69" y="847.49" width="13.69" height="228.31"/><rect x="1069.88" y="847.49" width="1" height="228.31"/><rect x="1070.38" y="847.49" width="13.69" height="228.31"/><rect x="1083.57" y="850.04" width="1" height="225.76"/><rect x="1084.07" y="850.04" width="13.69" height="225.76"/><rect x="1097.26" y="852.59" width="1" height="223.21"/><rect x="1097.76" y="852.59" width="13.69" height="223.21"/><rect x="1110.95" y="855.42" width="1" height="220.38"/><rect x="1111.45" y="855.42" width="13.69" height="220.38"/><rect x="1124.64" y="857.69" width="1" height="218.11"/><rect x="1125.14" y="857.69" width="13.69" height="218.11"/><rect x="1138.33" y="864.49" width="1" height="211.31"/><rect x="1138.83" y="864.49" width="13.69" height="211.31"/><rect x="1152.02" y="867.89" width="1" height="207.91"/><rect x="1152.52" y="867.89" width="13.69" height="207.91"/><rect x="1165.71" y="867.89" width="1" height="207.91"/><rect x="1166.21" y="867.89" width="13.69" height="207.91"/><rect x="1179.4" y="867.89" width="1" height="207.91"/><rect x="1179.9" y="867.89" width="13.69" height="207.91"/><rect x="1193.09" y="876.1" width="1" height="199.7"/><rect x="1193.59" y="876.1" width="13.69" height="199.7"/><rect x="1206.78" y="884.32" width="1" height="191.48"/><rect x="1207.28" y="884.32" width="13.69" height="191.48"/><rect x="1220.47" y="886.02" width="1" height="189.78"/><rect x="1220.97" y="886.02" width="13.69" height="189.78"/><rect x="1234.16" y="887.72" width="1" height="188.08"/><rect x="1234.66" y="887.72" width="13.69" height="188.08"/><rect x="1247.85" y="889.42" width="1" height="186.38"/><rect x="1248.35" y="889.42" width="13.69" height="186.38"/><rect x="1261.54" y="893.1" width="1" height="182.7"/><rect x="1262.04" y="893.1" width="13.69" height="182.7"/><rect x="1275.23" y="901.6" width="1" height="174.2"/><rect x="1275.73" y="901.6" width="13.69" height="174.2"/><rect x="1288.92" y="904.43" width="1" height="171.37"/><rect x="1289.42" y="904.43" width="13.69" height="171.37"/><rect x="1302.61" y="905.85" width="1" height="169.95"/><rect x="1303.11" y="905.85" width="13.69" height="169.95"/><rect x="1316.3" y="908.96" width="1" height="166.84"/><rect x="1316.8" y="908.96" width="13.69" height="166.84"/><rect x="1329.99" y="910.38" width="1" height="165.42"/><rect x="1330.49" y="910.38" width="13.69" height="165.42"/><rect x="1343.68" y="917.46" width="1" height="158.34"/><rect x="1344.18" y="917.46" width="13.69" height="158.34"/><rect x="1357.37" y="917.46" width="1" height="158.34"/><rect x="1357.87" y="917.46" width="13.69" height="158.34"/><rect x="1371.06" y="921.14" width="1" height="154.66"/><rect x="1371.56" y="921.14" width="13.69" height="154.66"/><rect x="1384.75" y="959.95" width="1" height="115.85"/><rect x="1385.25" y="959.95" width="13.69" height="115.85"/></g>
<g><rect x="771.5" y="630.98" width="9.09" height="444.82" fill="#00C3FF"/><rect x="785.19" y="630.98" width="9.09" height="444.82" fill="#A2A0A5"/><rect x="798.88" y="778" width="9.09" height="297.8" fill="#FF1143"/><rect x="812.57" y="803.78" width="9.09" height="272.02" fill="#FF1143"/><rect x="826.26" y="803.78" width="9.09" height="272.02" fill="#FF1143"/><rect x="839.95" y="807.75" width="9.09" height="268.05" fill="#FF1143"/><rect x="853.64" y="807.75" width="9.09" height="268.05" fill="#00C3FF"/><rect x="867.33" y="812" width="9.09" height="263.8" fill="#E088FF"/><rect x="881.02" y="815.11" width="9.09" height="260.69" fill="#FF1143"/><rect x="894.71" y="821.91" width="9.09" height="253.89" fill="#FF1143"/><rect x="908.4" y="821.91" width="9.09" height="253.89" fill="#FF8C05"/><rect x="922.09" y="821.91" width="9.09" height="253.89" fill="#FF1143"/><rect x="935.78" y="821.91" width="9.09" height="253.89" fill="#D5D5D5"/><rect x="949.47" y="832.11" width="9.09" height="243.69" fill="#D5D5D5"/><rect x="963.16" y="832.11" width="9.09" height="243.69" fill="#D5D5D5"/><rect x="976.85" y="837.78" width="9.09" height="238.02" fill="#D5D5D5"/><rect x="990.54" y="841.18" width="9.09" height="234.62" fill="#D5D5D5"/><rect x="1004.23" y="841.29" width="9.09" height="234.51" fill="#D5D5D5"/><rect x="1017.92" y="844.12" width="9.09" height="231.68" fill="#D5D5D5"/><rect x="1031.61" y="846.96" width="9.09" height="228.84" fill="#D5D5D5"/><rect x="1045.3" y="849.79" width="9.09" height="226.01" fill="#D5D5D5"/><rect x="1058.99" y="849.79" width="9.09" height="226.01" fill="#D5D5D5"/><rect x="1072.68" y="849.79" width="9.09" height="226.01" fill="#D5D5D5"/><rect x="1086.37" y="852.34" width="9.09" height="223.46" fill="#D5D5D5"/><rect x="1100.06" y="854.89" width="9.09" height="220.91" fill="#D5D5D5"/><rect x="1113.75" y="857.72" width="9.09" height="218.08" fill="#D5D5D5"/><rect x="1127.44" y="859.99" width="9.09" height="215.81" fill="#D5D5D5"/><rect x="1141.13" y="866.79" width="9.09" height="209.01" fill="#D5D5D5"/><rect x="1154.82" y="870.19" width="9.09" height="205.61" fill="#D5D5D5"/><rect x="1168.51" y="870.19" width="9.09" height="205.61" fill="#D5D5D5"/><rect x="1182.2" y="870.19" width="9.09" height="205.61" fill="#D5D5D5"/><rect x="1195.89" y="878.4" width="9.09" height="197.4" fill="#D5D5D5"/><rect x="1209.58" y="886.62" width="9.09" height="189.18" fill="#D5D5D5"/><rect x="1223.27" y="888.32" width="9.09" height="187.48" fill="#D5D5D5"/><rect x="1236.96" y="890.02" width="9.09" height="185.78" fill="#D5D5D5"/><rect x="1250.65" y="891.72" width="9.09" height="184.08" fill="#D5D5D5"/><rect x="1264.34" y="895.4" width="9.09" height="180.4" fill="#D5D5D5"/><rect x="1278.03" y="903.9" width="9.09" height="171.9" fill="#D5D5D5"/><rect x="1291.72" y="906.73" width="9.09" height="169.07" fill="#D5D5D5"/><rect x="1305.41" y="908.15" width="9.09" height="167.65" fill="#D5D5D5"/><rect x="1319.1" y="911.26" width="9.09" height="164.54" fill="#D5D5D5"/><rect x="1332.79" y="912.68" width="9.09" height="163.12" fill="#D5D5D5"/><rect x="1346.48" y="919.76" width="9.09" height="156.04" fill="#D5D5D5"/><rect x="1360.17" y="919.76" width="9.09" height="156.04" fill="#D5D5D5"/><rect x="1373.86" y="923.44" width="9.09" height="152.36" fill="#D5D5D5"/><rect x="1387.55" y="962.25" width="9.09" height="113.55" fill="#D5D5D5"/></g>
<g stroke="#000" fill="none">
<path stroke-width="3.5" d="M762.6 627.75 V1077.55"/>
<path stroke-width="3.7" d="M752.4 1075.8 H1411"/>
<path stroke-width="3.5" d="M752.4 986.54 H762.6M752.4 897.28 H762.6M752.4 808.02 H762.6M752.4 718.76 H762.6M752.4 629.5 H762.6"/>
<path stroke-width="3.3" d="M776.05 1075.8 V1083.3M789.74 1075.8 V1083.3M803.43 1075.8 V1083.3M817.12 1075.8 V1083.3M830.81 1075.8 V1083.3M844.5 1075.8 V1083.3M858.19 1075.8 V1083.3M871.88 1075.8 V1083.3M885.57 1075.8 V1083.3M899.26 1075.8 V1083.3M912.95 1075.8 V1083.3M926.63 1075.8 V1083.3M940.33 1075.8 V1083.3M954.02 1075.8 V1083.3M967.71 1075.8 V1083.3M981.39 1075.8 V1083.3M995.09 1075.8 V1083.3M1008.78 1075.8 V1083.3M1022.47 1075.8 V1083.3M1036.15 1075.8 V1083.3M1049.85 1075.8 V1083.3M1063.54 1075.8 V1083.3M1077.22 1075.8 V1083.3M1090.91 1075.8 V1083.3M1104.61 1075.8 V1083.3M1118.3 1075.8 V1083.3M1131.99 1075.8 V1083.3M1145.67 1075.8 V1083.3M1159.37 1075.8 V1083.3M1173.06 1075.8 V1083.3M1186.74 1075.8 V1083.3M1200.43 1075.8 V1083.3M1214.12 1075.8 V1083.3M1227.82 1075.8 V1083.3M1241.51 1075.8 V1083.3M1255.2 1075.8 V1083.3M1268.88 1075.8 V1083.3M1282.58 1075.8 V1083.3M1296.26 1075.8 V1083.3M1309.95 1075.8 V1083.3M1323.64 1075.8 V1083.3M1337.34 1075.8 V1083.3M1351.03 1075.8 V1083.3M1364.72 1075.8 V1083.3M1378.4 1075.8 V1083.3M1392.1 1075.8 V1083.3"/>
</g>
<text class="yt" x="750.4" y="1081.8">0.0</text><text class="yt" x="750.4" y="992.54">0.2</text><text class="yt" x="750.4" y="903.28">0.4</text><text class="yt" x="750.4" y="814.02">0.6</text><text class="yt" x="750.4" y="724.76">0.8</text><text class="yt" x="750.4" y="635.5">1.0</text>
<text class="xl" transform="translate(781.85 1085.8) rotate(-90)">RSGab</text><text class="xl" transform="translate(795.53 1085.8) rotate(-90)">POST</text><text class="xl" transform="translate(809.23 1085.8) rotate(-90)">BLAa</text><text class="xl" transform="translate(822.91 1085.8) rotate(-90)">LAv</text><text class="xl" transform="translate(836.61 1085.8) rotate(-90)">BMEa</text><text class="xl" transform="translate(850.29 1085.8) rotate(-90)">BLAp</text><text class="xl" transform="translate(863.99 1085.8) rotate(-90)">RSGca</text><text class="xl" transform="translate(877.67 1085.8) rotate(-90)">AD</text><text class="xl" transform="translate(891.37 1085.8) rotate(-90)">LAd</text><text class="xl" transform="translate(905.06 1085.8) rotate(-90)">BLAv</text><text class="xl" transform="translate(918.75 1085.8) rotate(-90)">vCA3</text><text class="xl" transform="translate(932.43 1085.8) rotate(-90)">BMEp</text><text class="xl" transform="translate(946.12 1085.8) rotate(-90)">MD</text><text class="xl" transform="translate(959.82 1085.8) rotate(-90)">RE</text><text class="xl" transform="translate(973.5 1085.8) rotate(-90)">vCA1</text><text class="xl" transform="translate(987.19 1085.8) rotate(-90)">RSDp</text><text class="xl" transform="translate(1000.88 1085.8) rotate(-90)">vDG</text><text class="xl" transform="translate(1014.58 1085.8) rotate(-90)">dCA1</text><text class="xl" transform="translate(1028.27 1085.8) rotate(-90)">MO</text><text class="xl" transform="translate(1041.95 1085.8) rotate(-90)">ITC</text><text class="xl" transform="translate(1055.64 1085.8) rotate(-90)">VO</text><text class="xl" transform="translate(1069.34 1085.8) rotate(-90)">dSUB</text><text class="xl" transform="translate(1083.02 1085.8) rotate(-90)">vSUB</text><text class="xl" transform="translate(1096.71 1085.8) rotate(-90)">AV</text><text class="xl" transform="translate(1110.4 1085.8) rotate(-90)">PER</text><text class="xl" transform="translate(1124.1 1085.8) rotate(-90)">DIENT</text><text class="xl" transform="translate(1137.79 1085.8) rotate(-90)">MEAa</text><text class="xl" transform="translate(1151.47 1085.8) rotate(-90)">RSDa</text><text class="xl" transform="translate(1165.16 1085.8) rotate(-90)">RSGcp</text><text class="xl" transform="translate(1178.86 1085.8) rotate(-90)">ECT</text><text class="xl" transform="translate(1192.54 1085.8) rotate(-90)">DLENT</text><text class="xl" transform="translate(1206.23 1085.8) rotate(-90)">dCA3</text><text class="xl" transform="translate(1219.92 1085.8) rotate(-90)">IL</text><text class="xl" transform="translate(1233.62 1085.8) rotate(-90)">AM</text><text class="xl" transform="translate(1247.31 1085.8) rotate(-90)">PVT</text><text class="xl" transform="translate(1261 1085.8) rotate(-90)">CEA</text><text class="xl" transform="translate(1274.68 1085.8) rotate(-90)">MEAp</text><text class="xl" transform="translate(1288.38 1085.8) rotate(-90)">dDG</text><text class="xl" transform="translate(1302.06 1085.8) rotate(-90)">MENT</text><text class="xl" transform="translate(1315.75 1085.8) rotate(-90)">DLO</text><text class="xl" transform="translate(1329.44 1085.8) rotate(-90)">LO</text><text class="xl" transform="translate(1343.13 1085.8) rotate(-90)">PAS</text><text class="xl" transform="translate(1356.83 1085.8) rotate(-90)">VIENT</text><text class="xl" transform="translate(1370.52 1085.8) rotate(-90)">POR</text><text class="xl" transform="translate(1384.2 1085.8) rotate(-90)">AC</text><text class="xl" transform="translate(1397.89 1085.8) rotate(-90)">PL</text>
</g>
<g id="CL">
<g fill="#000"><rect x="79.4" y="1456.62" width="12.93" height="220.68"/><rect x="91.83" y="1498.26" width="1" height="179.04"/><rect x="92.33" y="1498.26" width="12.93" height="179.04"/><rect x="104.76" y="1499.11" width="1" height="178.19"/><rect x="105.26" y="1499.11" width="12.93" height="178.19"/><rect x="117.69" y="1547.27" width="1" height="130.03"/><rect x="118.19" y="1547.27" width="12.93" height="130.03"/><rect x="130.62" y="1552.09" width="1" height="125.21"/><rect x="131.12" y="1552.09" width="12.93" height="125.21"/><rect x="143.55" y="1552.94" width="1" height="124.36"/><rect x="144.05" y="1552.94" width="12.93" height="124.36"/><rect x="156.48" y="1560.02" width="1" height="117.28"/><rect x="156.98" y="1560.02" width="12.93" height="117.28"/><rect x="169.41" y="1563.42" width="1" height="113.88"/><rect x="169.91" y="1563.42" width="12.93" height="113.88"/><rect x="182.34" y="1571.35" width="1" height="105.95"/><rect x="182.84" y="1571.35" width="12.93" height="105.95"/><rect x="195.27" y="1573.9" width="1" height="103.4"/><rect x="195.77" y="1573.9" width="12.93" height="103.4"/><rect x="208.2" y="1584.1" width="1" height="93.2"/><rect x="208.7" y="1584.1" width="12.93" height="93.2"/><rect x="221.13" y="1586.93" width="1" height="90.37"/><rect x="221.63" y="1586.93" width="12.93" height="90.37"/><rect x="234.06" y="1589.76" width="1" height="87.54"/><rect x="234.56" y="1589.76" width="12.93" height="87.54"/><rect x="246.99" y="1590.9" width="1" height="86.4"/><rect x="247.49" y="1590.9" width="12.93" height="86.4"/><rect x="259.92" y="1596" width="1" height="81.3"/><rect x="260.42" y="1596" width="12.93" height="81.3"/><rect x="272.85" y="1608.18" width="1" height="69.12"/><rect x="273.35" y="1608.18" width="12.93" height="69.12"/><rect x="285.78" y="1613.56" width="1" height="63.74"/><rect x="286.28" y="1613.56" width="12.93" height="63.74"/><rect x="298.71" y="1614.13" width="1" height="63.17"/><rect x="299.21" y="1614.13" width="12.93" height="63.17"/><rect x="311.64" y="1615.26" width="1" height="62.04"/><rect x="312.14" y="1615.26" width="12.93" height="62.04"/><rect x="324.57" y="1623.19" width="1" height="54.11"/><rect x="325.07" y="1623.19" width="12.93" height="54.11"/><rect x="337.5" y="1623.48" width="1" height="53.82"/><rect x="338" y="1623.48" width="12.93" height="53.82"/><rect x="350.43" y="1625.46" width="1" height="51.84"/><rect x="350.93" y="1625.46" width="12.93" height="51.84"/><rect x="363.36" y="1626.03" width="1" height="51.27"/><rect x="363.86" y="1626.03" width="12.93" height="51.27"/><rect x="376.29" y="1628.85" width="1" height="48.45"/><rect x="376.79" y="1628.85" width="12.93" height="48.45"/><rect x="389.22" y="1634.14" width="1" height="43.16"/><rect x="389.72" y="1634.14" width="12.93" height="43.16"/><rect x="402.15" y="1637.76" width="1" height="39.54"/><rect x="402.65" y="1637.76" width="12.93" height="39.54"/><rect x="415.08" y="1638.96" width="1" height="38.34"/><rect x="415.58" y="1638.96" width="12.93" height="38.34"/><rect x="428.01" y="1640.41" width="1" height="36.89"/><rect x="428.51" y="1640.41" width="12.93" height="36.89"/><rect x="440.94" y="1642.57" width="1" height="34.73"/><rect x="441.44" y="1642.57" width="12.93" height="34.73"/><rect x="453.87" y="1644.5" width="1" height="32.8"/><rect x="454.37" y="1644.5" width="12.93" height="32.8"/><rect x="466.8" y="1649.31" width="1" height="27.99"/><rect x="467.3" y="1649.31" width="12.93" height="27.99"/><rect x="479.73" y="1650.52" width="1" height="26.78"/><rect x="480.23" y="1650.52" width="12.93" height="26.78"/><rect x="492.66" y="1651.24" width="1" height="26.06"/><rect x="493.16" y="1651.24" width="12.93" height="26.06"/><rect x="505.59" y="1657.02" width="1" height="20.28"/><rect x="506.09" y="1657.02" width="12.93" height="20.28"/><rect x="518.52" y="1657.74" width="1" height="19.56"/><rect x="519.02" y="1657.74" width="12.93" height="19.56"/><rect x="531.45" y="1658.71" width="1" height="18.59"/><rect x="531.95" y="1658.71" width="12.93" height="18.59"/><rect x="544.38" y="1660.63" width="1" height="16.67"/><rect x="544.88" y="1660.63" width="12.93" height="16.67"/><rect x="557.31" y="1662.8" width="1" height="14.5"/><rect x="557.81" y="1662.8" width="12.93" height="14.5"/><rect x="570.24" y="1664.24" width="1" height="13.06"/><rect x="570.74" y="1664.24" width="12.93" height="13.06"/><rect x="583.17" y="1664.97" width="1" height="12.33"/><rect x="583.67" y="1664.97" width="12.93" height="12.33"/><rect x="596.1" y="1666.41" width="1" height="10.89"/><rect x="596.6" y="1666.41" width="12.93" height="10.89"/><rect x="609.03" y="1668.34" width="1" height="8.96"/><rect x="609.53" y="1668.34" width="12.93" height="8.96"/><rect x="621.96" y="1670.74" width="1" height="6.56"/><rect x="622.46" y="1670.74" width="12.93" height="6.56"/><rect x="634.89" y="1670.99" width="1" height="6.31"/><rect x="635.39" y="1670.99" width="12.93" height="6.31"/><rect x="647.82" y="1670.99" width="1" height="6.31"/><rect x="648.32" y="1670.99" width="12.93" height="6.31"/><rect x="660.75" y="1672.19" width="1" height="5.11"/><rect x="661.25" y="1672.19" width="12.93" height="5.11"/><rect x="673.68" y="1673.63" width="1" height="3.67"/><rect x="674.18" y="1673.63" width="12.93" height="3.67"/></g>
<g><rect x="81.7" y="1458.92" width="8.33" height="218.38" fill="#00C3FF"/><rect x="94.63" y="1500.56" width="8.33" height="176.74" fill="#00BD90"/><rect x="107.56" y="1501.41" width="8.33" height="175.89" fill="#FF1491"/><rect x="120.49" y="1549.57" width="8.33" height="127.73" fill="#E088FF"/><rect x="133.42" y="1554.39" width="8.33" height="122.91" fill="#00C3FF"/><rect x="146.35" y="1555.24" width="8.33" height="122.06" fill="#74BE00"/><rect x="159.28" y="1562.32" width="8.33" height="114.98" fill="#E088FF"/><rect x="172.21" y="1565.72" width="8.33" height="111.58" fill="#FF1491"/><rect x="185.14" y="1573.65" width="8.33" height="103.65" fill="#74BE00"/><rect x="198.07" y="1576.2" width="8.33" height="101.1" fill="#FF1143"/><rect x="211" y="1586.4" width="8.33" height="90.9" fill="#00C3FF"/><rect x="223.93" y="1589.23" width="8.33" height="88.07" fill="#74BE00"/><rect x="236.86" y="1592.06" width="8.33" height="85.24" fill="#D5D5D5"/><rect x="249.79" y="1593.2" width="8.33" height="84.1" fill="#D5D5D5"/><rect x="262.72" y="1598.3" width="8.33" height="79" fill="#D5D5D5"/><rect x="275.65" y="1610.48" width="8.33" height="66.82" fill="#D5D5D5"/><rect x="288.58" y="1615.86" width="8.33" height="61.44" fill="#D5D5D5"/><rect x="301.51" y="1616.43" width="8.33" height="60.87" fill="#D5D5D5"/><rect x="314.44" y="1617.56" width="8.33" height="59.74" fill="#D5D5D5"/><rect x="327.37" y="1625.49" width="8.33" height="51.81" fill="#D5D5D5"/><rect x="340.3" y="1625.78" width="8.33" height="51.52" fill="#D5D5D5"/><rect x="353.23" y="1627.76" width="8.33" height="49.54" fill="#D5D5D5"/><rect x="366.16" y="1628.33" width="8.33" height="48.97" fill="#D5D5D5"/><rect x="379.09" y="1631.15" width="8.33" height="46.15" fill="#D5D5D5"/><rect x="392.02" y="1636.44" width="8.33" height="40.86" fill="#D5D5D5"/><rect x="404.95" y="1640.06" width="8.33" height="37.24" fill="#D5D5D5"/><rect x="417.88" y="1641.26" width="8.33" height="36.04" fill="#D5D5D5"/><rect x="430.81" y="1642.71" width="8.33" height="34.59" fill="#D5D5D5"/><rect x="443.74" y="1644.87" width="8.33" height="32.43" fill="#D5D5D5"/><rect x="456.67" y="1646.8" width="8.33" height="30.5" fill="#D5D5D5"/><rect x="469.6" y="1651.61" width="8.33" height="25.69" fill="#D5D5D5"/><rect x="482.53" y="1652.82" width="8.33" height="24.48" fill="#D5D5D5"/><rect x="495.46" y="1653.54" width="8.33" height="23.76" fill="#D5D5D5"/><rect x="508.39" y="1659.32" width="8.33" height="17.98" fill="#D5D5D5"/><rect x="521.32" y="1660.04" width="8.33" height="17.26" fill="#D5D5D5"/><rect x="534.25" y="1661.01" width="8.33" height="16.29" fill="#D5D5D5"/><rect x="547.18" y="1662.93" width="8.33" height="14.37" fill="#D5D5D5"/><rect x="560.11" y="1665.1" width="8.33" height="12.2" fill="#D5D5D5"/><rect x="573.04" y="1666.54" width="8.33" height="10.76" fill="#D5D5D5"/><rect x="585.97" y="1667.27" width="8.33" height="10.03" fill="#D5D5D5"/><rect x="598.9" y="1668.71" width="8.33" height="8.59" fill="#D5D5D5"/><rect x="611.83" y="1670.64" width="8.33" height="6.66" fill="#D5D5D5"/><rect x="624.76" y="1673.04" width="8.33" height="4.26" fill="#D5D5D5"/><rect x="637.69" y="1673.29" width="8.33" height="4.01" fill="#D5D5D5"/><rect x="650.62" y="1673.29" width="8.33" height="4.01" fill="#D5D5D5"/><rect x="663.55" y="1674.49" width="8.33" height="2.81" fill="#D5D5D5"/><rect x="676.48" y="1675.93" width="8.33" height="1.37" fill="#D5D5D5"/></g>
<g stroke="#000" fill="none">
<path stroke-width="3.5" d="M72.6 1229.25 V1679.05"/>
<path stroke-width="3.7" d="M62.4 1677.3 H721.4"/>
<path stroke-width="3.5" d="M62.4 1613.54 H72.6M62.4 1549.79 H72.6M62.4 1486.03 H72.6M62.4 1422.27 H72.6M62.4 1358.51 H72.6M62.4 1294.76 H72.6M62.4 1231 H72.6"/>
<path stroke-width="3.3" d="M85.87 1677.3 V1684.8M98.8 1677.3 V1684.8M111.73 1677.3 V1684.8M124.66 1677.3 V1684.8M137.59 1677.3 V1684.8M150.51 1677.3 V1684.8M163.44 1677.3 V1684.8M176.38 1677.3 V1684.8M189.31 1677.3 V1684.8M202.24 1677.3 V1684.8M215.16 1677.3 V1684.8M228.09 1677.3 V1684.8M241.03 1677.3 V1684.8M253.96 1677.3 V1684.8M266.88 1677.3 V1684.8M279.81 1677.3 V1684.8M292.75 1677.3 V1684.8M305.68 1677.3 V1684.8M318.61 1677.3 V1684.8M331.53 1677.3 V1684.8M344.47 1677.3 V1684.8M357.39 1677.3 V1684.8M370.33 1677.3 V1684.8M383.25 1677.3 V1684.8M396.18 1677.3 V1684.8M409.12 1677.3 V1684.8M422.04 1677.3 V1684.8M434.98 1677.3 V1684.8M447.9 1677.3 V1684.8M460.84 1677.3 V1684.8M473.76 1677.3 V1684.8M486.7 1677.3 V1684.8M499.62 1677.3 V1684.8M512.55 1677.3 V1684.8M525.49 1677.3 V1684.8M538.41 1677.3 V1684.8M551.35 1677.3 V1684.8M564.27 1677.3 V1684.8M577.21 1677.3 V1684.8M590.13 1677.3 V1684.8M603.06 1677.3 V1684.8M616 1677.3 V1684.8M628.92 1677.3 V1684.8M641.86 1677.3 V1684.8M654.78 1677.3 V1684.8M667.71 1677.3 V1684.8M680.64 1677.3 V1684.8M693.57 1677.3 V1684.8M706.5 1677.3 V1684.8"/>
</g>
<text class="yt" x="60.4" y="1683.3">0</text><text class="yt" x="60.4" y="1619.54">20</text><text class="yt" x="60.4" y="1555.79">40</text><text class="yt" x="60.4" y="1492.03">60</text><text class="yt" x="60.4" y="1428.27">80</text><text class="yt" x="60.4" y="1364.51">100</text><text class="yt" x="60.4" y="1300.76">120</text><text class="yt" x="60.4" y="1237">140</text>
<text class="xl" transform="translate(91.67 1687.3) rotate(-90)">RSGab</text><text class="xl" transform="translate(104.59 1687.3) rotate(-90)">AC</text><text class="xl" transform="translate(117.53 1687.3) rotate(-90)">VO</text><text class="xl" transform="translate(130.46 1687.3) rotate(-90)">AD</text><text class="xl" transform="translate(143.39 1687.3) rotate(-90)">RSGca</text><text class="xl" transform="translate(156.31 1687.3) rotate(-90)">VIENT</text><text class="xl" transform="translate(169.25 1687.3) rotate(-90)">RE</text><text class="xl" transform="translate(182.18 1687.3) rotate(-90)">MO</text><text class="xl" transform="translate(195.11 1687.3) rotate(-90)">POR</text><text class="xl" transform="translate(208.04 1687.3) rotate(-90)">BLAp</text><text class="xl" transform="translate(220.97 1687.3) rotate(-90)">RSGcp</text><text class="xl" transform="translate(233.9 1687.3) rotate(-90)">DIENT</text><text class="xl" transform="translate(246.83 1687.3) rotate(-90)">BMEp</text><text class="xl" transform="translate(259.75 1687.3) rotate(-90)">RSDp</text><text class="xl" transform="translate(272.69 1687.3) rotate(-90)">MENT</text><text class="xl" transform="translate(285.62 1687.3) rotate(-90)">MD</text><text class="xl" transform="translate(298.55 1687.3) rotate(-90)">dCA3</text><text class="xl" transform="translate(311.48 1687.3) rotate(-90)">LAd</text><text class="xl" transform="translate(324.41 1687.3) rotate(-90)">BLAa</text><text class="xl" transform="translate(337.33 1687.3) rotate(-90)">BMEa</text><text class="xl" transform="translate(350.27 1687.3) rotate(-90)">vCA3</text><text class="xl" transform="translate(363.19 1687.3) rotate(-90)">AV</text><text class="xl" transform="translate(376.13 1687.3) rotate(-90)">vCA1</text><text class="xl" transform="translate(389.06 1687.3) rotate(-90)">RSDa</text><text class="xl" transform="translate(401.98 1687.3) rotate(-90)">LAv</text><text class="xl" transform="translate(414.92 1687.3) rotate(-90)">CEA</text><text class="xl" transform="translate(427.84 1687.3) rotate(-90)">dCA1</text><text class="xl" transform="translate(440.78 1687.3) rotate(-90)">M2</text><text class="xl" transform="translate(453.7 1687.3) rotate(-90)">DLENT</text><text class="xl" transform="translate(466.64 1687.3) rotate(-90)">vSUB</text><text class="xl" transform="translate(479.56 1687.3) rotate(-90)">vDG</text><text class="xl" transform="translate(492.5 1687.3) rotate(-90)">BLAv</text><text class="xl" transform="translate(505.43 1687.3) rotate(-90)">PER</text><text class="xl" transform="translate(518.35 1687.3) rotate(-90)">dSUB</text><text class="xl" transform="translate(531.28 1687.3) rotate(-90)">ECT</text><text class="xl" transform="translate(544.21 1687.3) rotate(-90)">ITC</text><text class="xl" transform="translate(557.14 1687.3) rotate(-90)">POST</text><text class="xl" transform="translate(570.07 1687.3) rotate(-90)">LO</text><text class="xl" transform="translate(583 1687.3) rotate(-90)">AM</text><text class="xl" transform="translate(595.93 1687.3) rotate(-90)">PAS</text><text class="xl" transform="translate(608.86 1687.3) rotate(-90)">dDG</text><text class="xl" transform="translate(621.79 1687.3) rotate(-90)">PVT</text><text class="xl" transform="translate(634.72 1687.3) rotate(-90)">MEAa</text><text class="xl" transform="translate(647.65 1687.3) rotate(-90)">CENT</text><text class="xl" transform="translate(660.58 1687.3) rotate(-90)">MEAp</text><text class="xl" transform="translate(673.51 1687.3) rotate(-90)">DLO</text><text class="xl" transform="translate(686.44 1687.3) rotate(-90)">IL</text><text class="xl" transform="translate(699.37 1687.3) rotate(-90)">PRES</text><text class="xl" transform="translate(712.3 1687.3) rotate(-90)">PL</text>
<text class="yl" transform="translate(18.4 1454.15) rotate(-90)">Betweeness</text>
</g>
<g id="CR">
<g fill="#000"><rect x="767.9" y="1238.29" width="13.68" height="439.81"/><rect x="781.07" y="1328.1" width="1" height="350"/><rect x="781.57" y="1328.1" width="13.68" height="350"/><rect x="794.75" y="1377.1" width="1" height="301"/><rect x="795.25" y="1377.1" width="13.68" height="301"/><rect x="808.42" y="1407.42" width="1" height="270.68"/><rect x="808.92" y="1407.42" width="13.68" height="270.68"/><rect x="822.1" y="1476.54" width="1" height="201.56"/><rect x="822.6" y="1476.54" width="13.68" height="201.56"/><rect x="835.77" y="1497.22" width="1" height="180.88"/><rect x="836.27" y="1497.22" width="13.68" height="180.88"/><rect x="849.45" y="1532.06" width="1" height="146.04"/><rect x="849.95" y="1532.06" width="13.68" height="146.04"/><rect x="863.12" y="1543.96" width="1" height="134.14"/><rect x="863.62" y="1543.96" width="13.68" height="134.14"/><rect x="876.8" y="1544.53" width="1" height="133.57"/><rect x="877.3" y="1544.53" width="13.68" height="133.57"/><rect x="890.47" y="1558.97" width="1" height="119.13"/><rect x="890.98" y="1558.97" width="13.68" height="119.13"/><rect x="904.15" y="1558.97" width="1" height="119.13"/><rect x="904.65" y="1558.97" width="13.68" height="119.13"/><rect x="917.82" y="1567.47" width="1" height="110.63"/><rect x="918.33" y="1567.47" width="13.68" height="110.63"/><rect x="931.5" y="1570.87" width="1" height="107.23"/><rect x="932" y="1570.87" width="13.68" height="107.23"/><rect x="945.17" y="1573.99" width="1" height="104.11"/><rect x="945.67" y="1573.99" width="13.68" height="104.11"/><rect x="958.85" y="1576.54" width="1" height="101.56"/><rect x="959.35" y="1576.54" width="13.68" height="101.56"/><rect x="972.52" y="1613.65" width="1" height="64.45"/><rect x="973.02" y="1613.65" width="13.68" height="64.45"/><rect x="986.2" y="1617.9" width="1" height="60.2"/><rect x="986.7" y="1617.9" width="13.68" height="60.2"/><rect x="999.88" y="1623.28" width="1" height="54.82"/><rect x="1000.38" y="1623.28" width="13.68" height="54.82"/><rect x="1013.55" y="1630.08" width="1" height="48.02"/><rect x="1014.05" y="1630.08" width="13.68" height="48.02"/><rect x="1027.22" y="1632.06" width="1" height="46.04"/><rect x="1027.72" y="1632.06" width="13.68" height="46.04"/><rect x="1040.9" y="1634.89" width="1" height="43.21"/><rect x="1041.4" y="1634.89" width="13.68" height="43.21"/><rect x="1054.58" y="1642.54" width="1" height="35.56"/><rect x="1055.08" y="1642.54" width="13.68" height="35.56"/><rect x="1068.25" y="1650.7" width="1" height="27.4"/><rect x="1068.75" y="1650.7" width="13.68" height="27.4"/><rect x="1081.92" y="1653.11" width="1" height="24.99"/><rect x="1082.42" y="1653.11" width="13.68" height="24.99"/><rect x="1095.6" y="1654.31" width="1" height="23.79"/><rect x="1096.1" y="1654.31" width="13.68" height="23.79"/><rect x="1109.27" y="1654.79" width="1" height="23.31"/><rect x="1109.78" y="1654.79" width="13.68" height="23.31"/><rect x="1122.95" y="1655.03" width="1" height="23.07"/><rect x="1123.45" y="1655.03" width="13.68" height="23.07"/><rect x="1136.62" y="1659.85" width="1" height="18.25"/><rect x="1137.12" y="1659.85" width="13.68" height="18.25"/><rect x="1150.3" y="1661.54" width="1" height="16.56"/><rect x="1150.8" y="1661.54" width="13.68" height="16.56"/><rect x="1163.97" y="1662.02" width="1" height="16.08"/><rect x="1164.47" y="1662.02" width="13.68" height="16.08"/><rect x="1177.65" y="1666.11" width="1" height="11.99"/><rect x="1178.15" y="1666.11" width="13.68" height="11.99"/><rect x="1191.33" y="1668.04" width="1" height="10.06"/><rect x="1191.83" y="1668.04" width="13.68" height="10.06"/><rect x="1205" y="1668.04" width="1" height="10.06"/><rect x="1205.5" y="1668.04" width="13.68" height="10.06"/><rect x="1218.67" y="1670.2" width="1" height="7.9"/><rect x="1219.17" y="1670.2" width="13.68" height="7.9"/><rect x="1232.35" y="1671.41" width="1" height="6.69"/><rect x="1232.85" y="1671.41" width="13.68" height="6.69"/><rect x="1246.02" y="1671.89" width="1" height="6.21"/><rect x="1246.53" y="1671.89" width="13.68" height="6.21"/></g>
<g><rect x="770.2" y="1240.59" width="9.08" height="437.51" fill="#E088FF"/><rect x="783.87" y="1330.4" width="9.08" height="347.7" fill="#FF8C05"/><rect x="797.55" y="1379.4" width="9.08" height="298.7" fill="#FF1143"/><rect x="811.22" y="1409.72" width="9.08" height="268.38" fill="#FF1491"/><rect x="824.9" y="1478.84" width="9.08" height="199.26" fill="#00C3FF"/><rect x="838.57" y="1499.52" width="9.08" height="178.58" fill="#FF1143"/><rect x="852.25" y="1534.36" width="9.08" height="143.74" fill="#E088FF"/><rect x="865.92" y="1546.26" width="9.08" height="131.84" fill="#00BD90"/><rect x="879.6" y="1546.83" width="9.08" height="131.27" fill="#E088FF"/><rect x="893.27" y="1561.27" width="9.08" height="116.83" fill="#FF1143"/><rect x="906.95" y="1561.27" width="9.08" height="116.83" fill="#74BE00"/><rect x="920.62" y="1569.77" width="9.08" height="108.33" fill="#FF1143"/><rect x="934.3" y="1573.17" width="9.08" height="104.93" fill="#D5D5D5"/><rect x="947.97" y="1576.29" width="9.08" height="101.81" fill="#D5D5D5"/><rect x="961.65" y="1578.84" width="9.08" height="99.26" fill="#D5D5D5"/><rect x="975.32" y="1615.95" width="9.08" height="62.15" fill="#D5D5D5"/><rect x="989" y="1620.2" width="9.08" height="57.9" fill="#D5D5D5"/><rect x="1002.67" y="1625.58" width="9.08" height="52.52" fill="#D5D5D5"/><rect x="1016.35" y="1632.38" width="9.08" height="45.72" fill="#D5D5D5"/><rect x="1030.02" y="1634.36" width="9.08" height="43.74" fill="#D5D5D5"/><rect x="1043.7" y="1637.19" width="9.08" height="40.91" fill="#D5D5D5"/><rect x="1057.38" y="1644.84" width="9.08" height="33.26" fill="#D5D5D5"/><rect x="1071.05" y="1653" width="9.08" height="25.1" fill="#D5D5D5"/><rect x="1084.72" y="1655.41" width="9.08" height="22.69" fill="#D5D5D5"/><rect x="1098.4" y="1656.61" width="9.08" height="21.49" fill="#D5D5D5"/><rect x="1112.08" y="1657.09" width="9.08" height="21.01" fill="#D5D5D5"/><rect x="1125.75" y="1657.33" width="9.08" height="20.77" fill="#D5D5D5"/><rect x="1139.42" y="1662.15" width="9.08" height="15.95" fill="#D5D5D5"/><rect x="1153.1" y="1663.84" width="9.08" height="14.26" fill="#D5D5D5"/><rect x="1166.77" y="1664.32" width="9.08" height="13.78" fill="#D5D5D5"/><rect x="1180.45" y="1668.41" width="9.08" height="9.69" fill="#D5D5D5"/><rect x="1194.12" y="1670.34" width="9.08" height="7.76" fill="#D5D5D5"/><rect x="1207.8" y="1670.34" width="9.08" height="7.76" fill="#D5D5D5"/><rect x="1221.47" y="1672.5" width="9.08" height="5.6" fill="#D5D5D5"/><rect x="1235.15" y="1673.71" width="9.08" height="4.39" fill="#D5D5D5"/><rect x="1248.83" y="1674.19" width="9.08" height="3.91" fill="#D5D5D5"/></g>
<g stroke="#000" fill="none">
<path stroke-width="3.5" d="M760.7 1230.15 V1679.85"/>
<path stroke-width="3.7" d="M750.5 1678.1 H1409.2"/>
<path stroke-width="3.5" d="M750.5 1614.36 H760.7M750.5 1550.61 H760.7M750.5 1486.87 H760.7M750.5 1423.13 H760.7M750.5 1359.39 H760.7M750.5 1295.64 H760.7M750.5 1231.9 H760.7"/>
<path stroke-width="3.3" d="M774.74 1678.1 V1685.6M788.41 1678.1 V1685.6M802.09 1678.1 V1685.6M815.76 1678.1 V1685.6M829.44 1678.1 V1685.6M843.11 1678.1 V1685.6M856.79 1678.1 V1685.6M870.46 1678.1 V1685.6M884.14 1678.1 V1685.6M897.81 1678.1 V1685.6M911.49 1678.1 V1685.6M925.16 1678.1 V1685.6M938.84 1678.1 V1685.6M952.51 1678.1 V1685.6M966.19 1678.1 V1685.6M979.86 1678.1 V1685.6M993.54 1678.1 V1685.6M1007.21 1678.1 V1685.6M1020.89 1678.1 V1685.6M1034.56 1678.1 V1685.6M1048.24 1678.1 V1685.6M1061.91 1678.1 V1685.6M1075.59 1678.1 V1685.6M1089.26 1678.1 V1685.6M1102.94 1678.1 V1685.6M1116.61 1678.1 V1685.6M1130.29 1678.1 V1685.6M1143.96 1678.1 V1685.6M1157.64 1678.1 V1685.6M1171.31 1678.1 V1685.6M1184.99 1678.1 V1685.6M1198.66 1678.1 V1685.6M1212.34 1678.1 V1685.6M1226.01 1678.1 V1685.6M1239.69 1678.1 V1685.6M1253.36 1678.1 V1685.6M1267.04 1678.1 V1685.6M1280.71 1678.1 V1685.6M1294.39 1678.1 V1685.6M1308.06 1678.1 V1685.6M1321.74 1678.1 V1685.6M1335.41 1678.1 V1685.6M1349.09 1678.1 V1685.6M1362.76 1678.1 V1685.6M1376.44 1678.1 V1685.6M1390.11 1678.1 V1685.6"/>
</g>
<text class="yt" x="748.5" y="1684.1">0</text><text class="yt" x="748.5" y="1620.36">20</text><text class="yt" x="748.5" y="1556.61">40</text><text class="yt" x="748.5" y="1492.87">60</text><text class="yt" x="748.5" y="1429.13">80</text><text class="yt" x="748.5" y="1365.39">100</text><text class="yt" x="748.5" y="1301.64">120</text><text class="yt" x="748.5" y="1237.9">140</text>
<text class="xl" transform="translate(780.54 1688.1) rotate(-90)">MD</text><text class="xl" transform="translate(794.21 1688.1) rotate(-90)">dCA1</text><text class="xl" transform="translate(807.89 1688.1) rotate(-90)">BLAa</text><text class="xl" transform="translate(821.56 1688.1) rotate(-90)">VO</text><text class="xl" transform="translate(835.24 1688.1) rotate(-90)">RSGca</text><text class="xl" transform="translate(848.91 1688.1) rotate(-90)">BMEp</text><text class="xl" transform="translate(862.59 1688.1) rotate(-90)">RE</text><text class="xl" transform="translate(876.26 1688.1) rotate(-90)">AC</text><text class="xl" transform="translate(889.94 1688.1) rotate(-90)">AD</text><text class="xl" transform="translate(903.61 1688.1) rotate(-90)">BMEa</text><text class="xl" transform="translate(917.29 1688.1) rotate(-90)">DIENT</text><text class="xl" transform="translate(930.96 1688.1) rotate(-90)">LAv</text><text class="xl" transform="translate(944.64 1688.1) rotate(-90)">BLAp</text><text class="xl" transform="translate(958.31 1688.1) rotate(-90)">LAd</text><text class="xl" transform="translate(971.99 1688.1) rotate(-90)">vCA3</text><text class="xl" transform="translate(985.66 1688.1) rotate(-90)">vCA1</text><text class="xl" transform="translate(999.34 1688.1) rotate(-90)">vDG</text><text class="xl" transform="translate(1013.01 1688.1) rotate(-90)">vSUB</text><text class="xl" transform="translate(1026.69 1688.1) rotate(-90)">DLENT</text><text class="xl" transform="translate(1040.36 1688.1) rotate(-90)">dSUB</text><text class="xl" transform="translate(1054.04 1688.1) rotate(-90)">BLAv</text><text class="xl" transform="translate(1067.71 1688.1) rotate(-90)">MO</text><text class="xl" transform="translate(1081.39 1688.1) rotate(-90)">RSDp</text><text class="xl" transform="translate(1095.06 1688.1) rotate(-90)">ITC</text><text class="xl" transform="translate(1108.74 1688.1) rotate(-90)">MENT</text><text class="xl" transform="translate(1122.41 1688.1) rotate(-90)">RSDa</text><text class="xl" transform="translate(1136.09 1688.1) rotate(-90)">PER</text><text class="xl" transform="translate(1149.76 1688.1) rotate(-90)">AM</text><text class="xl" transform="translate(1163.44 1688.1) rotate(-90)">RSGcp</text><text class="xl" transform="translate(1177.11 1688.1) rotate(-90)">AV</text><text class="xl" transform="translate(1190.79 1688.1) rotate(-90)">MEAa</text><text class="xl" transform="translate(1204.46 1688.1) rotate(-90)">PAS</text><text class="xl" transform="translate(1218.14 1688.1) rotate(-90)">dCA3</text><text class="xl" transform="translate(1231.81 1688.1) rotate(-90)">PVT</text><text class="xl" transform="translate(1245.49 1688.1) rotate(-90)">ECT</text><text class="xl" transform="translate(1259.16 1688.1) rotate(-90)">CEA</text><text class="xl" transform="translate(1272.84 1688.1) rotate(-90)">DLO</text><text class="xl" transform="translate(1286.51 1688.1) rotate(-90)">dDG</text><text class="xl" transform="translate(1300.19 1688.1) rotate(-90)">IL</text><text class="xl" transform="translate(1313.86 1688.1) rotate(-90)">MEAp</text><text class="xl" transform="translate(1327.54 1688.1) rotate(-90)">VIENT</text><text class="xl" transform="translate(1341.21 1688.1) rotate(-90)">LO</text><text class="xl" transform="translate(1354.89 1688.1) rotate(-90)">POR</text><text class="xl" transform="translate(1368.56 1688.1) rotate(-90)">RSGab</text><text class="xl" transform="translate(1382.24 1688.1) rotate(-90)">POST</text><text class="xl" transform="translate(1395.91 1688.1) rotate(-90)">PL</text>
</g>
<g id="DL">
<g fill="#000"><rect x="79.4" y="1966.37" width="12.93" height="324.73"/><rect x="91.83" y="1966.37" width="1" height="324.73"/><rect x="92.33" y="1966.37" width="12.93" height="324.73"/><rect x="104.76" y="1966.37" width="1" height="324.73"/><rect x="105.26" y="1966.37" width="12.93" height="324.73"/><rect x="117.69" y="1971.47" width="1" height="319.63"/><rect x="118.19" y="1971.47" width="12.93" height="319.63"/><rect x="130.62" y="1971.47" width="1" height="319.63"/><rect x="131.12" y="1971.47" width="12.93" height="319.63"/><rect x="143.55" y="1976" width="1" height="315.1"/><rect x="144.05" y="1976" width="12.93" height="315.1"/><rect x="156.48" y="1980.82" width="1" height="310.28"/><rect x="156.98" y="1980.82" width="12.93" height="310.28"/><rect x="169.41" y="1985.07" width="1" height="306.03"/><rect x="169.91" y="1985.07" width="12.93" height="306.03"/><rect x="182.34" y="1985.07" width="1" height="306.03"/><rect x="182.84" y="1985.07" width="12.93" height="306.03"/><rect x="195.27" y="1985.07" width="1" height="306.03"/><rect x="195.77" y="1985.07" width="12.93" height="306.03"/><rect x="208.2" y="1993.56" width="1" height="297.54"/><rect x="208.7" y="1993.56" width="12.93" height="297.54"/><rect x="221.13" y="1993.56" width="1" height="297.54"/><rect x="221.63" y="1993.56" width="12.93" height="297.54"/><rect x="234.06" y="1993.56" width="1" height="297.54"/><rect x="234.56" y="1993.56" width="12.93" height="297.54"/><rect x="246.99" y="1997.53" width="1" height="293.57"/><rect x="247.49" y="1997.53" width="12.93" height="293.57"/><rect x="259.92" y="2001.78" width="1" height="289.32"/><rect x="260.42" y="2001.78" width="12.93" height="289.32"/><rect x="272.85" y="2001.78" width="1" height="289.32"/><rect x="273.35" y="2001.78" width="12.93" height="289.32"/><rect x="285.78" y="2005.46" width="1" height="285.64"/><rect x="286.28" y="2005.46" width="12.93" height="285.64"/><rect x="298.71" y="2005.46" width="1" height="285.64"/><rect x="299.21" y="2005.46" width="12.93" height="285.64"/><rect x="311.64" y="2005.46" width="1" height="285.64"/><rect x="312.14" y="2005.46" width="12.93" height="285.64"/><rect x="324.57" y="2005.46" width="1" height="285.64"/><rect x="325.07" y="2005.46" width="12.93" height="285.64"/><rect x="337.5" y="2005.46" width="1" height="285.64"/><rect x="338" y="2005.46" width="12.93" height="285.64"/><rect x="350.43" y="2009.15" width="1" height="281.95"/><rect x="350.93" y="2009.15" width="12.93" height="281.95"/><rect x="363.36" y="2009.15" width="1" height="281.95"/><rect x="363.86" y="2009.15" width="12.93" height="281.95"/><rect x="376.29" y="2012.86" width="1" height="278.24"/><rect x="376.79" y="2012.86" width="12.93" height="278.24"/><rect x="389.22" y="2019.6" width="1" height="271.5"/><rect x="389.72" y="2019.6" width="12.93" height="271.5"/><rect x="402.15" y="2023.21" width="1" height="267.89"/><rect x="402.65" y="2023.21" width="12.93" height="267.89"/><rect x="415.08" y="2026.82" width="1" height="264.28"/><rect x="415.58" y="2026.82" width="12.93" height="264.28"/><rect x="428.01" y="2026.82" width="1" height="264.28"/><rect x="428.51" y="2026.82" width="12.93" height="264.28"/><rect x="440.94" y="2026.82" width="1" height="264.28"/><rect x="441.44" y="2026.82" width="12.93" height="264.28"/><rect x="453.87" y="2029.95" width="1" height="261.15"/><rect x="454.37" y="2029.95" width="12.93" height="261.15"/><rect x="466.8" y="2029.95" width="1" height="261.15"/><rect x="467.3" y="2029.95" width="12.93" height="261.15"/><rect x="479.73" y="2036.21" width="1" height="254.89"/><rect x="480.23" y="2036.21" width="12.93" height="254.89"/><rect x="492.66" y="2050.42" width="1" height="240.68"/><rect x="493.16" y="2050.42" width="12.93" height="240.68"/><rect x="505.59" y="2050.42" width="1" height="240.68"/><rect x="506.09" y="2050.42" width="12.93" height="240.68"/><rect x="518.52" y="2052.83" width="1" height="238.27"/><rect x="519.02" y="2052.83" width="12.93" height="238.27"/><rect x="531.45" y="2052.83" width="1" height="238.27"/><rect x="531.95" y="2052.83" width="12.93" height="238.27"/><rect x="544.38" y="2055.72" width="1" height="235.38"/><rect x="544.88" y="2055.72" width="12.93" height="235.38"/><rect x="557.31" y="2055.72" width="1" height="235.38"/><rect x="557.81" y="2055.72" width="12.93" height="235.38"/><rect x="570.24" y="2057.64" width="1" height="233.46"/><rect x="570.74" y="2057.64" width="12.93" height="233.46"/><rect x="583.17" y="2065.35" width="1" height="225.75"/><rect x="583.67" y="2065.35" width="12.93" height="225.75"/><rect x="596.1" y="2067.76" width="1" height="223.34"/><rect x="596.6" y="2067.76" width="12.93" height="223.34"/><rect x="609.03" y="2069.92" width="1" height="221.18"/><rect x="609.53" y="2069.92" width="12.93" height="221.18"/><rect x="621.96" y="2071.85" width="1" height="219.25"/><rect x="622.46" y="2071.85" width="12.93" height="219.25"/><rect x="634.89" y="2076.91" width="1" height="214.19"/><rect x="635.39" y="2076.91" width="12.93" height="214.19"/><rect x="647.82" y="2096.41" width="1" height="194.69"/><rect x="648.32" y="2096.41" width="12.93" height="194.69"/><rect x="660.75" y="2114.23" width="1" height="176.87"/><rect x="661.25" y="2114.23" width="12.93" height="176.87"/><rect x="673.68" y="2115.91" width="1" height="175.19"/><rect x="674.18" y="2115.91" width="12.93" height="175.19"/><rect x="686.61" y="2126.03" width="1" height="165.07"/><rect x="687.11" y="2126.03" width="12.93" height="165.07"/><rect x="699.54" y="2154.92" width="1" height="136.18"/><rect x="700.04" y="2154.92" width="12.93" height="136.18"/></g>
<g><rect x="81.7" y="1968.67" width="8.33" height="322.43" fill="#E088FF"/><rect x="94.63" y="1968.67" width="8.33" height="322.43" fill="#E088FF"/><rect x="107.56" y="1968.67" width="8.33" height="322.43" fill="#FF1143"/><rect x="120.49" y="1973.77" width="8.33" height="317.33" fill="#00C3FF"/><rect x="133.42" y="1973.77" width="8.33" height="317.33" fill="#FF1143"/><rect x="146.35" y="1978.3" width="8.33" height="312.8" fill="#FF1143"/><rect x="159.28" y="1983.12" width="8.33" height="307.98" fill="#FF1143"/><rect x="172.21" y="1987.37" width="8.33" height="303.73" fill="#FF1143"/><rect x="185.14" y="1987.37" width="8.33" height="303.73" fill="#FF8C05"/><rect x="198.07" y="1987.37" width="8.33" height="303.73" fill="#FF1143"/><rect x="211" y="1995.86" width="8.33" height="295.24" fill="#E088FF"/><rect x="223.93" y="1995.86" width="8.33" height="295.24" fill="#FF8C05"/><rect x="236.86" y="1995.86" width="8.33" height="295.24" fill="#D5D5D5"/><rect x="249.79" y="1999.83" width="8.33" height="291.27" fill="#D5D5D5"/><rect x="262.72" y="2004.08" width="8.33" height="287.02" fill="#D5D5D5"/><rect x="275.65" y="2004.08" width="8.33" height="287.02" fill="#D5D5D5"/><rect x="288.58" y="2007.76" width="8.33" height="283.34" fill="#D5D5D5"/><rect x="301.51" y="2007.76" width="8.33" height="283.34" fill="#D5D5D5"/><rect x="314.44" y="2007.76" width="8.33" height="283.34" fill="#D5D5D5"/><rect x="327.37" y="2007.76" width="8.33" height="283.34" fill="#D5D5D5"/><rect x="340.3" y="2007.76" width="8.33" height="283.34" fill="#D5D5D5"/><rect x="353.23" y="2011.45" width="8.33" height="279.65" fill="#D5D5D5"/><rect x="366.16" y="2011.45" width="8.33" height="279.65" fill="#D5D5D5"/><rect x="379.09" y="2015.16" width="8.33" height="275.94" fill="#D5D5D5"/><rect x="392.02" y="2021.9" width="8.33" height="269.2" fill="#D5D5D5"/><rect x="404.95" y="2025.51" width="8.33" height="265.59" fill="#D5D5D5"/><rect x="417.88" y="2029.12" width="8.33" height="261.98" fill="#D5D5D5"/><rect x="430.81" y="2029.12" width="8.33" height="261.98" fill="#D5D5D5"/><rect x="443.74" y="2029.12" width="8.33" height="261.98" fill="#D5D5D5"/><rect x="456.67" y="2032.25" width="8.33" height="258.85" fill="#D5D5D5"/><rect x="469.6" y="2032.25" width="8.33" height="258.85" fill="#D5D5D5"/><rect x="482.53" y="2038.51" width="8.33" height="252.59" fill="#D5D5D5"/><rect x="495.46" y="2052.72" width="8.33" height="238.38" fill="#D5D5D5"/><rect x="508.39" y="2052.72" width="8.33" height="238.38" fill="#D5D5D5"/><rect x="521.32" y="2055.13" width="8.33" height="235.97" fill="#D5D5D5"/><rect x="534.25" y="2055.13" width="8.33" height="235.97" fill="#D5D5D5"/><rect x="547.18" y="2058.02" width="8.33" height="233.08" fill="#D5D5D5"/><rect x="560.11" y="2058.02" width="8.33" height="233.08" fill="#D5D5D5"/><rect x="573.04" y="2059.94" width="8.33" height="231.16" fill="#D5D5D5"/><rect x="585.97" y="2067.65" width="8.33" height="223.45" fill="#D5D5D5"/><rect x="598.9" y="2070.06" width="8.33" height="221.04" fill="#D5D5D5"/><rect x="611.83" y="2072.22" width="8.33" height="218.88" fill="#D5D5D5"/><rect x="624.76" y="2074.15" width="8.33" height="216.95" fill="#D5D5D5"/><rect x="637.69" y="2079.21" width="8.33" height="211.89" fill="#D5D5D5"/><rect x="650.62" y="2098.71" width="8.33" height="192.39" fill="#D5D5D5"/><rect x="663.55" y="2116.53" width="8.33" height="174.57" fill="#D5D5D5"/><rect x="676.48" y="2118.21" width="8.33" height="172.89" fill="#D5D5D5"/><rect x="689.41" y="2128.33" width="8.33" height="162.77" fill="#D5D5D5"/><rect x="702.34" y="2157.22" width="8.33" height="133.88" fill="#D5D5D5"/></g>
<g stroke="#000" fill="none">
<path stroke-width="3.5" d="M72.8 1843.15 V2292.85"/>
<path stroke-width="3.7" d="M62.6 2291.1 H721.4"/>
<path stroke-width="3.5" d="M62.6 2201.86 H72.8M62.6 2112.62 H72.8M62.6 2023.38 H72.8M62.6 1934.14 H72.8M62.6 1844.9 H72.8"/>
<path stroke-width="3.3" d="M85.87 2291.1 V2298.6M98.8 2291.1 V2298.6M111.73 2291.1 V2298.6M124.66 2291.1 V2298.6M137.59 2291.1 V2298.6M150.51 2291.1 V2298.6M163.44 2291.1 V2298.6M176.38 2291.1 V2298.6M189.31 2291.1 V2298.6M202.24 2291.1 V2298.6M215.16 2291.1 V2298.6M228.09 2291.1 V2298.6M241.03 2291.1 V2298.6M253.96 2291.1 V2298.6M266.88 2291.1 V2298.6M279.81 2291.1 V2298.6M292.75 2291.1 V2298.6M305.68 2291.1 V2298.6M318.61 2291.1 V2298.6M331.53 2291.1 V2298.6M344.47 2291.1 V2298.6M357.39 2291.1 V2298.6M370.33 2291.1 V2298.6M383.25 2291.1 V2298.6M396.18 2291.1 V2298.6M409.12 2291.1 V2298.6M422.04 2291.1 V2298.6M434.98 2291.1 V2298.6M447.9 2291.1 V2298.6M460.84 2291.1 V2298.6M473.76 2291.1 V2298.6M486.7 2291.1 V2298.6M499.62 2291.1 V2298.6M512.55 2291.1 V2298.6M525.49 2291.1 V2298.6M538.41 2291.1 V2298.6M551.35 2291.1 V2298.6M564.27 2291.1 V2298.6M577.21 2291.1 V2298.6M590.13 2291.1 V2298.6M603.06 2291.1 V2298.6M616 2291.1 V2298.6M628.92 2291.1 V2298.6M641.86 2291.1 V2298.6M654.78 2291.1 V2298.6M667.71 2291.1 V2298.6M680.64 2291.1 V2298.6M693.57 2291.1 V2298.6M706.5 2291.1 V2298.6"/>
</g>
<text class="yt" x="60.6" y="2297.1">0.0</text><text class="yt" x="60.6" y="2207.86">0.2</text><text class="yt" x="60.6" y="2118.62">0.4</text><text class="yt" x="60.6" y="2029.38">0.6</text><text class="yt" x="60.6" y="1940.14">0.8</text><text class="yt" x="60.6" y="1850.9">1.0</text>
<text class="xl" transform="translate(91.67 2301.1) rotate(-90)">AD</text><text class="xl" transform="translate(104.59 2301.1) rotate(-90)">RE</text><text class="xl" transform="translate(117.53 2301.1) rotate(-90)">BLAp</text><text class="xl" transform="translate(130.46 2301.1) rotate(-90)">RSGca</text><text class="xl" transform="translate(143.39 2301.1) rotate(-90)">BLAa</text><text class="xl" transform="translate(156.31 2301.1) rotate(-90)">LAd</text><text class="xl" transform="translate(169.25 2301.1) rotate(-90)">BMEa</text><text class="xl" transform="translate(182.18 2301.1) rotate(-90)">BMEp</text><text class="xl" transform="translate(195.11 2301.1) rotate(-90)">vCA3</text><text class="xl" transform="translate(208.04 2301.1) rotate(-90)">LAv</text><text class="xl" transform="translate(220.97 2301.1) rotate(-90)">MD</text><text class="xl" transform="translate(233.9 2301.1) rotate(-90)">vCA1</text><text class="xl" transform="translate(246.83 2301.1) rotate(-90)">vDG</text><text class="xl" transform="translate(259.75 2301.1) rotate(-90)">dSUB</text><text class="xl" transform="translate(272.69 2301.1) rotate(-90)">RSDp</text><text class="xl" transform="translate(285.62 2301.1) rotate(-90)">BLAv</text><text class="xl" transform="translate(298.55 2301.1) rotate(-90)">VO</text><text class="xl" transform="translate(311.48 2301.1) rotate(-90)">RSGcp</text><text class="xl" transform="translate(324.41 2301.1) rotate(-90)">DIENT</text><text class="xl" transform="translate(337.33 2301.1) rotate(-90)">RSDa</text><text class="xl" transform="translate(350.27 2301.1) rotate(-90)">PER</text><text class="xl" transform="translate(363.19 2301.1) rotate(-90)">RSGab</text><text class="xl" transform="translate(376.13 2301.1) rotate(-90)">ECT</text><text class="xl" transform="translate(389.06 2301.1) rotate(-90)">ITC</text><text class="xl" transform="translate(401.98 2301.1) rotate(-90)">AV</text><text class="xl" transform="translate(414.92 2301.1) rotate(-90)">dCA1</text><text class="xl" transform="translate(427.84 2301.1) rotate(-90)">MO</text><text class="xl" transform="translate(440.78 2301.1) rotate(-90)">dCA3</text><text class="xl" transform="translate(453.7 2301.1) rotate(-90)">CEA</text><text class="xl" transform="translate(466.64 2301.1) rotate(-90)">DLENT</text><text class="xl" transform="translate(479.56 2301.1) rotate(-90)">vSUB</text><text class="xl" transform="translate(492.5 2301.1) rotate(-90)">MEAa</text><text class="xl" transform="translate(505.43 2301.1) rotate(-90)">POR</text><text class="xl" transform="translate(518.35 2301.1) rotate(-90)">PAS</text><text class="xl" transform="translate(531.28 2301.1) rotate(-90)">LO</text><text class="xl" transform="translate(544.21 2301.1) rotate(-90)">dDG</text><text class="xl" transform="translate(557.14 2301.1) rotate(-90)">PVT</text><text class="xl" transform="translate(570.07 2301.1) rotate(-90)">IL</text><text class="xl" transform="translate(583 2301.1) rotate(-90)">AM</text><text class="xl" transform="translate(595.93 2301.1) rotate(-90)">VIENT</text><text class="xl" transform="translate(608.86 2301.1) rotate(-90)">MEAp</text><text class="xl" transform="translate(621.79 2301.1) rotate(-90)">DLO</text><text class="xl" transform="translate(634.72 2301.1) rotate(-90)">MENT</text><text class="xl" transform="translate(647.65 2301.1) rotate(-90)">POST</text><text class="xl" transform="translate(660.58 2301.1) rotate(-90)">AC</text><text class="xl" transform="translate(673.51 2301.1) rotate(-90)">PRES</text><text class="xl" transform="translate(686.44 2301.1) rotate(-90)">M2</text><text class="xl" transform="translate(699.37 2301.1) rotate(-90)">CENT</text><text class="xl" transform="translate(712.3 2301.1) rotate(-90)">PL</text>
<text class="yl" transform="translate(22.7 2068) rotate(-90)">Closeness</text>
</g>
<g id="DR">
<g fill="#000"><rect x="767.95" y="1843.91" width="13.69" height="446.29"/><rect x="781.14" y="1875.92" width="1" height="414.28"/><rect x="781.64" y="1875.92" width="13.69" height="414.28"/><rect x="794.83" y="1885.84" width="1" height="404.36"/><rect x="795.33" y="1885.84" width="13.69" height="404.36"/><rect x="808.52" y="1886.69" width="1" height="403.51"/><rect x="809.02" y="1886.69" width="13.69" height="403.51"/><rect x="822.21" y="1917.85" width="1" height="372.35"/><rect x="822.71" y="1917.85" width="13.69" height="372.35"/><rect x="835.9" y="1945.89" width="1" height="344.31"/><rect x="836.4" y="1945.89" width="13.69" height="344.31"/><rect x="849.59" y="1950.14" width="1" height="340.06"/><rect x="850.09" y="1950.14" width="13.69" height="340.06"/><rect x="863.28" y="1953.82" width="1" height="336.38"/><rect x="863.78" y="1953.82" width="13.69" height="336.38"/><rect x="876.97" y="1971.67" width="1" height="318.53"/><rect x="877.47" y="1971.67" width="13.69" height="318.53"/><rect x="890.66" y="1981.59" width="1" height="308.61"/><rect x="891.16" y="1981.59" width="13.69" height="308.61"/><rect x="904.35" y="1998.58" width="1" height="291.62"/><rect x="904.85" y="1998.58" width="13.69" height="291.62"/><rect x="918.04" y="2000" width="1" height="290.2"/><rect x="918.54" y="2000" width="13.69" height="290.2"/><rect x="931.73" y="2001.98" width="1" height="288.22"/><rect x="932.23" y="2001.98" width="13.69" height="288.22"/><rect x="945.42" y="2012.46" width="1" height="277.74"/><rect x="945.92" y="2012.46" width="13.69" height="277.74"/><rect x="959.11" y="2013.88" width="1" height="276.32"/><rect x="959.61" y="2013.88" width="13.69" height="276.32"/><rect x="972.8" y="2034.28" width="1" height="255.92"/><rect x="973.3" y="2034.28" width="13.69" height="255.92"/><rect x="986.49" y="2042.78" width="1" height="247.42"/><rect x="986.99" y="2042.78" width="13.69" height="247.42"/><rect x="1000.18" y="2069.97" width="1" height="220.23"/><rect x="1000.68" y="2069.97" width="13.69" height="220.23"/><rect x="1013.87" y="2072.91" width="1" height="217.29"/><rect x="1014.37" y="2072.91" width="13.69" height="217.29"/><rect x="1027.56" y="2073.48" width="1" height="216.72"/><rect x="1028.06" y="2073.48" width="13.69" height="216.72"/><rect x="1041.25" y="2074.61" width="1" height="215.59"/><rect x="1041.75" y="2074.61" width="13.69" height="215.59"/><rect x="1054.94" y="2075.75" width="1" height="214.45"/><rect x="1055.44" y="2075.75" width="13.69" height="214.45"/><rect x="1068.63" y="2087.93" width="1" height="202.27"/><rect x="1069.13" y="2087.93" width="13.69" height="202.27"/><rect x="1082.32" y="2118.81" width="1" height="171.39"/><rect x="1082.82" y="2118.81" width="13.69" height="171.39"/><rect x="1096.01" y="2120.51" width="1" height="169.69"/><rect x="1096.51" y="2120.51" width="13.69" height="169.69"/><rect x="1109.7" y="2127.59" width="1" height="162.61"/><rect x="1110.2" y="2127.59" width="13.69" height="162.61"/><rect x="1123.39" y="2137.79" width="1" height="152.41"/><rect x="1123.89" y="2137.79" width="13.69" height="152.41"/><rect x="1137.08" y="2153.37" width="1" height="136.83"/><rect x="1137.58" y="2153.37" width="13.69" height="136.83"/><rect x="1150.77" y="2160.73" width="1" height="129.47"/><rect x="1151.27" y="2160.73" width="13.69" height="129.47"/><rect x="1164.46" y="2163.28" width="1" height="126.92"/><rect x="1164.96" y="2163.28" width="13.69" height="126.92"/><rect x="1178.15" y="2174.05" width="1" height="116.15"/><rect x="1178.65" y="2174.05" width="13.69" height="116.15"/><rect x="1191.84" y="2215.97" width="1" height="74.23"/><rect x="1192.34" y="2215.97" width="13.69" height="74.23"/><rect x="1205.53" y="2218.24" width="1" height="71.96"/><rect x="1206.03" y="2218.24" width="13.69" height="71.96"/><rect x="1219.22" y="2219.37" width="1" height="70.83"/><rect x="1219.72" y="2219.37" width="13.69" height="70.83"/><rect x="1232.91" y="2237.79" width="1" height="52.41"/><rect x="1233.41" y="2237.79" width="13.69" height="52.41"/><rect x="1246.6" y="2245.72" width="1" height="44.48"/><rect x="1247.1" y="2245.72" width="13.69" height="44.48"/><rect x="1260.29" y="2252.8" width="1" height="37.4"/><rect x="1260.79" y="2252.8" width="13.69" height="37.4"/><rect x="1273.98" y="2254.5" width="1" height="35.7"/><rect x="1274.48" y="2254.5" width="13.69" height="35.7"/><rect x="1287.67" y="2263" width="1" height="27.2"/><rect x="1288.17" y="2263" width="13.69" height="27.2"/><rect x="1301.36" y="2268.38" width="1" height="21.82"/><rect x="1301.86" y="2268.38" width="13.69" height="21.82"/><rect x="1315.05" y="2271.5" width="1" height="18.7"/><rect x="1315.55" y="2271.5" width="13.69" height="18.7"/><rect x="1328.74" y="2274.9" width="1" height="15.3"/><rect x="1329.24" y="2274.9" width="13.69" height="15.3"/><rect x="1342.43" y="2276.31" width="1" height="13.89"/><rect x="1342.93" y="2276.31" width="13.69" height="13.89"/></g>
<g><rect x="770.25" y="1846.21" width="9.09" height="443.99" fill="#FF1143"/><rect x="783.94" y="1878.22" width="9.09" height="411.98" fill="#FF1143"/><rect x="797.63" y="1888.14" width="9.09" height="402.06" fill="#FF1143"/><rect x="811.32" y="1888.99" width="9.09" height="401.21" fill="#FF1143"/><rect x="825.01" y="1920.15" width="9.09" height="370.05" fill="#FF1143"/><rect x="838.7" y="1948.19" width="9.09" height="342.01" fill="#FF1143"/><rect x="852.39" y="1952.44" width="9.09" height="337.76" fill="#FF8C05"/><rect x="866.08" y="1956.12" width="9.09" height="334.08" fill="#E088FF"/><rect x="879.77" y="1973.97" width="9.09" height="316.23" fill="#00C3FF"/><rect x="893.46" y="1983.89" width="9.09" height="306.31" fill="#FF1143"/><rect x="907.15" y="2000.88" width="9.09" height="289.32" fill="#FF1491"/><rect x="920.84" y="2002.3" width="9.09" height="287.9" fill="#E088FF"/><rect x="934.53" y="2004.28" width="9.09" height="285.92" fill="#D5D5D5"/><rect x="948.22" y="2014.76" width="9.09" height="275.44" fill="#D5D5D5"/><rect x="961.91" y="2016.18" width="9.09" height="274.02" fill="#D5D5D5"/><rect x="975.6" y="2036.58" width="9.09" height="253.62" fill="#D5D5D5"/><rect x="989.29" y="2045.08" width="9.09" height="245.12" fill="#D5D5D5"/><rect x="1002.98" y="2072.27" width="9.09" height="217.93" fill="#D5D5D5"/><rect x="1016.67" y="2075.21" width="9.09" height="214.99" fill="#D5D5D5"/><rect x="1030.36" y="2075.78" width="9.09" height="214.42" fill="#D5D5D5"/><rect x="1044.05" y="2076.91" width="9.09" height="213.29" fill="#D5D5D5"/><rect x="1057.74" y="2078.05" width="9.09" height="212.15" fill="#D5D5D5"/><rect x="1071.43" y="2090.23" width="9.09" height="199.97" fill="#D5D5D5"/><rect x="1085.12" y="2121.11" width="9.09" height="169.09" fill="#D5D5D5"/><rect x="1098.81" y="2122.81" width="9.09" height="167.39" fill="#D5D5D5"/><rect x="1112.5" y="2129.89" width="9.09" height="160.31" fill="#D5D5D5"/><rect x="1126.19" y="2140.09" width="9.09" height="150.11" fill="#D5D5D5"/><rect x="1139.88" y="2155.67" width="9.09" height="134.53" fill="#D5D5D5"/><rect x="1153.57" y="2163.03" width="9.09" height="127.17" fill="#D5D5D5"/><rect x="1167.26" y="2165.58" width="9.09" height="124.62" fill="#D5D5D5"/><rect x="1180.95" y="2176.35" width="9.09" height="113.85" fill="#D5D5D5"/><rect x="1194.64" y="2218.27" width="9.09" height="71.93" fill="#D5D5D5"/><rect x="1208.33" y="2220.54" width="9.09" height="69.66" fill="#D5D5D5"/><rect x="1222.02" y="2221.67" width="9.09" height="68.53" fill="#D5D5D5"/><rect x="1235.71" y="2240.09" width="9.09" height="50.11" fill="#D5D5D5"/><rect x="1249.4" y="2248.02" width="9.09" height="42.18" fill="#D5D5D5"/><rect x="1263.09" y="2255.1" width="9.09" height="35.1" fill="#D5D5D5"/><rect x="1276.78" y="2256.8" width="9.09" height="33.4" fill="#D5D5D5"/><rect x="1290.47" y="2265.3" width="9.09" height="24.9" fill="#D5D5D5"/><rect x="1304.16" y="2270.68" width="9.09" height="19.52" fill="#D5D5D5"/><rect x="1317.85" y="2273.8" width="9.09" height="16.4" fill="#D5D5D5"/><rect x="1331.54" y="2277.2" width="9.09" height="13" fill="#D5D5D5"/><rect x="1345.23" y="2278.61" width="9.09" height="11.59" fill="#D5D5D5"/></g>
<g stroke="#000" fill="none">
<path stroke-width="3.5" d="M760.6 1842.75 V2291.95"/>
<path stroke-width="3.7" d="M750.4 2290.2 H1409.5"/>
<path stroke-width="3.5" d="M750.4 2201.06 H760.6M750.4 2111.92 H760.6M750.4 2022.78 H760.6M750.4 1933.64 H760.6M750.4 1844.5 H760.6"/>
<path stroke-width="3.3" d="M774.8 2290.2 V2297.7M788.49 2290.2 V2297.7M802.18 2290.2 V2297.7M815.87 2290.2 V2297.7M829.56 2290.2 V2297.7M843.25 2290.2 V2297.7M856.94 2290.2 V2297.7M870.62 2290.2 V2297.7M884.32 2290.2 V2297.7M898.01 2290.2 V2297.7M911.7 2290.2 V2297.7M925.38 2290.2 V2297.7M939.08 2290.2 V2297.7M952.77 2290.2 V2297.7M966.46 2290.2 V2297.7M980.14 2290.2 V2297.7M993.84 2290.2 V2297.7M1007.53 2290.2 V2297.7M1021.22 2290.2 V2297.7M1034.9 2290.2 V2297.7M1048.6 2290.2 V2297.7M1062.29 2290.2 V2297.7M1075.97 2290.2 V2297.7M1089.66 2290.2 V2297.7M1103.36 2290.2 V2297.7M1117.05 2290.2 V2297.7M1130.74 2290.2 V2297.7M1144.42 2290.2 V2297.7M1158.12 2290.2 V2297.7M1171.81 2290.2 V2297.7M1185.49 2290.2 V2297.7M1199.18 2290.2 V2297.7M1212.88 2290.2 V2297.7M1226.57 2290.2 V2297.7M1240.26 2290.2 V2297.7M1253.95 2290.2 V2297.7M1267.63 2290.2 V2297.7M1281.33 2290.2 V2297.7M1295.01 2290.2 V2297.7M1308.7 2290.2 V2297.7M1322.39 2290.2 V2297.7M1336.09 2290.2 V2297.7M1349.78 2290.2 V2297.7M1363.47 2290.2 V2297.7M1377.15 2290.2 V2297.7M1390.85 2290.2 V2297.7"/>
</g>
<text class="yt" x="748.4" y="2296.2">0.0</text><text class="yt" x="748.4" y="2207.06">0.2</text><text class="yt" x="748.4" y="2117.92">0.4</text><text class="yt" x="748.4" y="2028.78">0.6</text><text class="yt" x="748.4" y="1939.64">0.8</text><text class="yt" x="748.4" y="1850.5">1.0</text>
<text class="xl" transform="translate(780.6 2300.2) rotate(-90)">BLAa</text><text class="xl" transform="translate(794.28 2300.2) rotate(-90)">LAv</text><text class="xl" transform="translate(807.98 2300.2) rotate(-90)">BMEa</text><text class="xl" transform="translate(821.66 2300.2) rotate(-90)">BLAp</text><text class="xl" transform="translate(835.36 2300.2) rotate(-90)">LAd</text><text class="xl" transform="translate(849.04 2300.2) rotate(-90)">BLAv</text><text class="xl" transform="translate(862.74 2300.2) rotate(-90)">vCA3</text><text class="xl" transform="translate(876.42 2300.2) rotate(-90)">AD</text><text class="xl" transform="translate(890.12 2300.2) rotate(-90)">RSGca</text><text class="xl" transform="translate(903.81 2300.2) rotate(-90)">BMEp</text><text class="xl" transform="translate(917.5 2300.2) rotate(-90)">MO</text><text class="xl" transform="translate(931.18 2300.2) rotate(-90)">RE</text><text class="xl" transform="translate(944.88 2300.2) rotate(-90)">vDG</text><text class="xl" transform="translate(958.57 2300.2) rotate(-90)">RSDp</text><text class="xl" transform="translate(972.25 2300.2) rotate(-90)">MD</text><text class="xl" transform="translate(985.94 2300.2) rotate(-90)">vCA1</text><text class="xl" transform="translate(999.63 2300.2) rotate(-90)">ITC</text><text class="xl" transform="translate(1013.33 2300.2) rotate(-90)">VO</text><text class="xl" transform="translate(1027.02 2300.2) rotate(-90)">dSUB</text><text class="xl" transform="translate(1040.7 2300.2) rotate(-90)">AV</text><text class="xl" transform="translate(1054.39 2300.2) rotate(-90)">MEAa</text><text class="xl" transform="translate(1068.09 2300.2) rotate(-90)">dCA1</text><text class="xl" transform="translate(1081.77 2300.2) rotate(-90)">vSUB</text><text class="xl" transform="translate(1095.46 2300.2) rotate(-90)">PER</text><text class="xl" transform="translate(1109.15 2300.2) rotate(-90)">RSGcp</text><text class="xl" transform="translate(1122.85 2300.2) rotate(-90)">ECT</text><text class="xl" transform="translate(1136.54 2300.2) rotate(-90)">DLENT</text><text class="xl" transform="translate(1150.22 2300.2) rotate(-90)">IL</text><text class="xl" transform="translate(1163.91 2300.2) rotate(-90)">dCA3</text><text class="xl" transform="translate(1177.61 2300.2) rotate(-90)">DIENT</text><text class="xl" transform="translate(1191.29 2300.2) rotate(-90)">RSDa</text><text class="xl" transform="translate(1204.98 2300.2) rotate(-90)">AM</text><text class="xl" transform="translate(1218.67 2300.2) rotate(-90)">PVT</text><text class="xl" transform="translate(1232.37 2300.2) rotate(-90)">MEAp</text><text class="xl" transform="translate(1246.06 2300.2) rotate(-90)">dDG</text><text class="xl" transform="translate(1259.75 2300.2) rotate(-90)">MENT</text><text class="xl" transform="translate(1273.43 2300.2) rotate(-90)">PAS</text><text class="xl" transform="translate(1287.12 2300.2) rotate(-90)">DLO</text><text class="xl" transform="translate(1300.81 2300.2) rotate(-90)">LO</text><text class="xl" transform="translate(1314.5 2300.2) rotate(-90)">VIENT</text><text class="xl" transform="translate(1328.19 2300.2) rotate(-90)">CEA</text><text class="xl" transform="translate(1341.88 2300.2) rotate(-90)">AC</text><text class="xl" transform="translate(1355.58 2300.2) rotate(-90)">POR</text><text class="xl" transform="translate(1369.27 2300.2) rotate(-90)">PL</text><text class="xl" transform="translate(1382.95 2300.2) rotate(-90)">RSGab</text><text class="xl" transform="translate(1396.64 2300.2) rotate(-90)">POST</text>
</g>
<text class="pl" x="12.2" y="21.8">A</text>
<text class="pl" x="11.7" y="606">B</text>
<text class="pl" x="11.4" y="1205.8">C</text>
<text class="pl" x="11.4" y="1821.9">D</text>
<text class="tt" x="372.5" y="22.1">CFC-5s (p &lt; 0.05)</text>
<text class="tt" x="1097.4" y="22.1">CFC-5s (p &lt; 0.01)</text>
<text x="100.2" y="73.6" style="font-size:22.6px;letter-spacing:0px">upper 25%</text>
<path d="M81.2 92.6 H233.2" stroke="#000" stroke-width="3.3" stroke-dasharray="11.7 8.3" fill="none"/>
<text x="1319.3" y="92.9" style="font-size:19.5px;text-anchor:middle">Anatomical</text>
<text x="1319.3" y="116.3" style="font-size:19.5px;text-anchor:middle">group</text>
<rect x="1279" y="131.9" width="17.4" height="17.1" fill="#00BE8E"/><text class="lg" x="1305.5" y="147.7">mPFC</text>
<rect x="1279" y="154.1" width="17.4" height="17.1" fill="#FF0F8C"/><text class="lg" x="1305.5" y="170.6">FC</text>
<rect x="1279" y="175.6" width="17.4" height="17.1" fill="#00BFFF"/><text class="lg" x="1305.5" y="192.5">RSC</text>
<rect x="1279" y="197.3" width="17.4" height="17.1" fill="#CD7CCD"/><text class="lg" x="1305.5" y="214.4">TAL</text>
<rect x="1279" y="218.8" width="17.4" height="17.1" fill="#FF1040"/><text class="lg" x="1305.5" y="236.6">AMY</text>
<rect x="1279" y="241.1" width="17.4" height="17.1" fill="#FF8A05"/><text class="lg" x="1305.5" y="257.9">HPC</text>
<rect x="1279" y="264" width="17.4" height="17.1" fill="#CDC9CD"/><text class="lg" x="1305.5" y="280.4">SUB</text>
<rect x="1279" y="287.1" width="17.4" height="17.1" fill="#6EBE00"/><text class="lg" x="1305.5" y="303.6">PHC</text>
</svg>
</body></html>
